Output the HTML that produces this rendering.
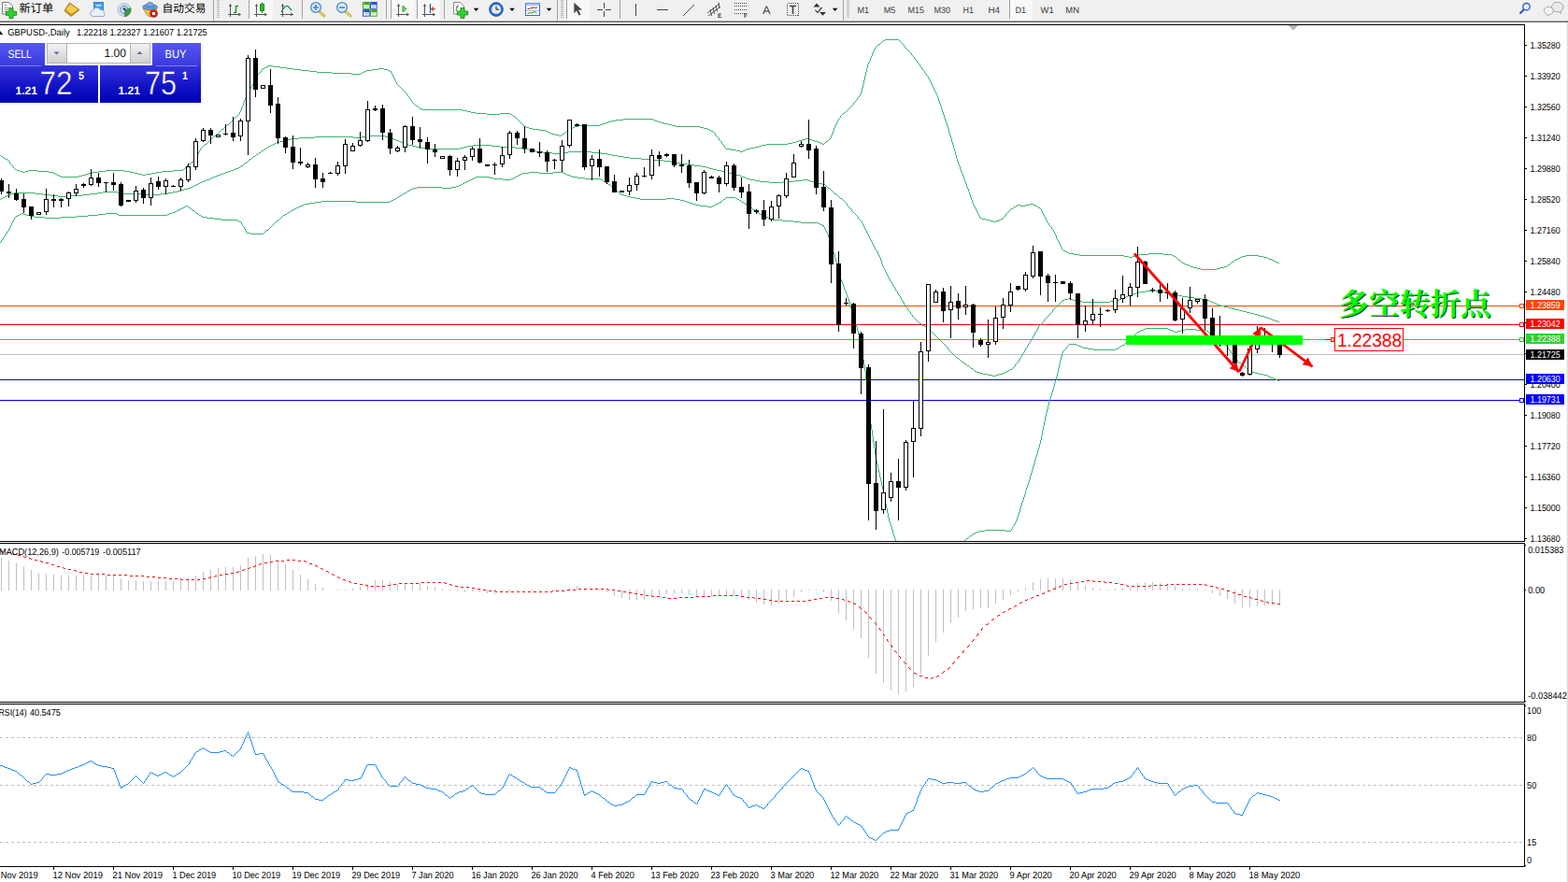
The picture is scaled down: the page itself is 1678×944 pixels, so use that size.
<!DOCTYPE html>
<html><head><meta charset="utf-8"><title>GBPUSD Daily</title>
<style>
html,body{margin:0;padding:0;background:#fff;overflow:hidden}
body{width:1678px;height:944px;position:relative;font-family:"Liberation Sans",sans-serif}
svg{position:absolute;left:0;top:0;display:block}
text{font-family:"Liberation Sans",sans-serif;text-rendering:geometricPrecision}
</style></head><body>
<svg width="1678" height="944" viewBox="0 0 1678 944">
<rect x="0" y="0" width="1678" height="944" fill="#fff"/>
<!--CHART-->
<g shape-rendering="crispEdges">
<rect x="0" y="26" width="1632" height="1" fill="#000" />
<rect x="1631" y="26" width="1" height="902" fill="#000" />
<rect x="0" y="579" width="1632" height="1" fill="#000" />
<rect x="0" y="581" width="1632" height="1" fill="#000" />
<rect x="0" y="751" width="1632" height="1" fill="#000" />
<rect x="0" y="753" width="1632" height="1" fill="#000" />
<rect x="0" y="927" width="1632" height="1" fill="#000" />
<rect x="1631" y="580" width="1" height="1" fill="#fff" />
<rect x="1631" y="752" width="1" height="1" fill="#fff" />
<rect x="1632" y="583" width="1" height="1" fill="#000" />
<rect x="1632" y="750" width="1" height="1" fill="#000" />
<rect x="1632" y="755" width="1" height="1" fill="#000" />
<rect x="1632" y="926" width="1" height="1" fill="#000" />
<rect x="1676" y="24" width="1" height="920" fill="#f2f2f2" />
<rect x="1677" y="24" width="1" height="920" fill="#dfdfdf" />
</g>
<clipPath id="cm"><rect x="0" y="27" width="1631" height="552"/></clipPath>
<g clip-path="url(#cm)">
<g shape-rendering="crispEdges">
<rect x="0" y="327" width="1631" height="1" fill="#FF4500" />
<rect x="0" y="347" width="1631" height="1" fill="#FF0000" />
<rect x="0" y="363" width="1631" height="1" fill="#32CD32" />
<rect x="0" y="379" width="1631" height="1" fill="#C0C0C0" />
<rect x="0" y="406" width="1631" height="1" fill="#0000FF" />
<rect x="0" y="428" width="1631" height="1" fill="#0000FF" />
<path transform="translate(.5,.5)" d="M0 166v0m1 1h1m1 1v0m1 1h1m1 1h1m1 1v0m1 1v0m1 1v1m1 1v0m1 1v0m1 1v0m1 1v1m1 1v0m1 1h1m1 1h2m1 1h2m1 1h2m1-1h2m1-1h9m1 1h11m1 1h4m1 1h1m1 1h1m1 1h1m1 1h1m1 1h18m1-1h3m1-1h3m1-1h2m1-1h3m1-1h5m1-1h7m1-1h19m1 1h5m1 1h4m1 1h3m1 1h3m1 1h3m1-1h5m1-1h4m1-1h5m1-1h11m1-1h10m1-1v0m1-1v0m1-1v0m1-1v0m1-1v0m1-1v0m1-1h1m1-1v0m1-1h1m1-1v0m1-1v-1m1-1v-1m1-1v-1m1-1v0m1-1v-1m1-1v-1m1-1v-1m1-1v0m1-1v0m1-1v0m1-1v0m1-1h1m1-1v0m1-1v0m1-1v0m1-1v0m1-1v0m1-1v0m1-1v0m1-1v0m1-1h1m1-1v0m1-1v0m1-1v0m1-1v0m1-1v0m1-1v0m1-1h1m1-1v0m1-1v0m1-1v0m1-1v0m1-1h1m1-1v0m1-1v0m1-1v0m1-1v0m1-1v0m1-1v0m1-1v0m1-1v0m1-1v0m1-1v0m1-1v0m1-1v-1m1-1v-1m1-1v-2m1-1v-1m1-1v-2m1-1v-2m1-1v-1m1-1v-1m1-1v-1m1-1v-1m1-1v-1m1-1v-1m1-1v-1m1-1v-1m1-1v0m1-1v-1m1-1v-1m1-1v-1m1-1v-1m1-1v-1m1-1v0m1-1v0m1-1v0m1-1v-1m1-1v0m1-1h1m1-1h1m1-1h1m1-1h4m1 1h7m1 1h6m1 1h6m1 1h7m1 1h8m1 1h7m1 1h15m1 1h20m1 1h9m1-1h1m1-1h1m1-1h1m1-1h5m1-1h6m1-1h5m1 1h3m1 1h1m1 1h1m0 1v0m1 1v1m1 1v1m1 1v1m1 1v1m1 1v1m1 1v1m1 1v0m1 1v0m1 1v0m1 1v0m1 1v0m1 1v0m1 1v0m1 1v0m1 1v0m1 1v0m1 1v1m1 1v0m1 1v0m1 1v1m1 1v0m1 1v1m1 1v0m1 1v0m1 1v0m1 1v0m1 1h1m1 1v0m1 1v0m1 1h2m1 1h42m1 1h4m1 1h3m1 1h4m1 1h11m1 1h13m1-1h10m1 1h1m1 1v0m1 1h1m1 1v0m1 1v0m1 1v0m1 1v0m1 1v0m1 1v0m1 1v0m1 1v0m1 1v0m1 1v0m1 1h1m1 1h2m1 1h3m1 1h6m1 1h6m1 1h1m1 1h1m1 1h1m1 1h3m1 1h3m1 1h2m1-1v0m1-1h1m1-1v0m1-1v0m1-1h1m1-1h1m1-1v0m1-1h1m1-1h1m1-1h3m1-1h22m1-1h2m1-1h2m1-1h2m1-1h2m1-1h4m1-1h7m1-1h31m1 1h1m1 1h2m1 1h2m1 1h3m1 1h3m1 1h3m1 1h3m1 1h25m1 1h3m1 1h3m1 1h1m1 1h1m1 1h1m1 1v0m1 1v0m1 1v1m1 1v0m1 1v0m1 1v0m1 1v1m1 1v0m1 1v0m1 1v1m1 1v0m1 1v0m1 1v1m1 1v0m1 1h4m1 1h5m1 1h3m1 1h2m1-1h1m1-1h1m1-1h3m1-1h4m1-1h3m1-1h2m1-1h4m1-1h22m1-1h4m1-1h3m1-1h2m1-1h2m1-1h3m1-1h3m1 1h2m1 1h2m1 1h3m1 1h1m1 1h1m1 1h1m1-1v0m1-1v0m1-1h1m1-1v0m1-1v0m1-1v-1m1-1v-1m1-1v-1m1-1v-2m1-1v-2m1-1v-1m1-1v-1m1-1v-1m1-1v-1m1-1v-1m1-1v0m1-1v-1m1-1v0m1-1v0m1-1h1m1-1v0m1-1v0m1-1v0m1-1v0m1-1v0m1-1v0m1-1v0m1-1v0m1-1v0m1-1v-1m1-1v0m1-1v0m1-1v0m1-1v-1m1-1v0m1-1v0m1-1v-1m1-1v-2m1-1v-3m1-1v-3m1-1v-3m1-1v-4m1-1v-3m1-1v-3m1-1v-3m1-1v-1m1-1v-1m1-1v-2m1-1v-1m1-1v-2m1-1v-1m1-1v-1m1-1v-1m1-1v0m1-1v0m1-1v0m1-1h1m1-1v0m1-1v0m1-1v0m1-1h1m1-1h14m1 1v0m1 1v0m1 1v0m1 1v0m1 1v0m1 1v1m1 1v0m1 1v0m1 1v0m1 1v0m1 1v0m1 1v0m1 1v0m1 1v1m1 1v0m1 1v0m1 1v1m1 1v0m1 1v0m1 1v1m1 1v0m1 1v0m1 1v1m1 1v0m1 1v1m1 1v0m1 1v0m1 1v1m1 1v0m1 1v1m1 1v0m1 1v1m1 1v1m1 1v1m1 1v1m1 1v1m1 1v1m1 1v1m1 1v1m1 1v1m1 1v1m1 1v2m1 1v2m1 1v2m1 1v2m1 1v2m1 1v2m1 1v2m1 1v2m1 1v2m1 1v2m1 1v2m1 1v2m1 1v3m1 1v2m1 1v2m1 1v3m1 1v2m1 1v3m1 1v2m1 1v3m1 1v3m1 1v2m1 1v2m1 1v1m1 1v2m1 1v2m1 1v1m1 1v2m1 1v2m1 1v1m1 1v2m1 1v2m1 1v1m1 1v2m1 1v2m1 1v2m1 1v2m1 1v2m1 1v1m1 1v1m1 1v1m1 1v1m1 1v1m1 1v1m1 1v1m1 1v1m1 1h1m1 1h3m1 1h3m1 1h3m1 1h2m1-1h2m1-1h1m1-1h1m1-1v0m1-1v0m1-1v0m1-1v-1m1-1v0m1-1v0m1-1v0m1-1v0m1-1v0m1-1h1m1-1v0m1-1h1m1-1h1m1-1h2m1 1h4m1-1h4m1-1h3m1 1h1m1 1h1m1 1v0m1 1h1m1 1v0m1 1v1m1 1v1m1 1v1m1 1v1m1 1v1m1 1v1m1 1v1m1 1v0m1 1v1m1 1v0m1 1v0m1 1v1m1 1v0m1 1v1m1 1v1m1 1v1m1 1v2m1 1v1m1 1v1m1 1v1m1 1v1m1 1v1m1 1v1m1 1v0m1 1h1m1 1h1m1 1h1m1 1h4m1 1h5m1 1h47m1 1h4m1 1h3m1-1h2m1-1h3m1-1h9m1-1h15m1 1h8m1 1h1m1 1h1m1 1v0m1 1v0m1 1v0m1 1h1m1 1v0m1 1v0m1 1h1m1 1h1m1 1h2m1 1h1m1 1h2m1 1h3m1 1h3m1 1h16m1-1h3m1-1h3m1-1h2m1-1v0m1-1h1m1-1v0m1-1v0m1-1h1m1-1v0m1-1h1m1-1h1m1-1h1m1-1h1m1-1h3m1-1h13m1 1h4m1 1h3m1 1h1m1 1h2m1 1h1m1 1h1m1 1h1m1 1h1" stroke="#3CB371" stroke-width="1" stroke-linecap="square" fill="none"/>
<path transform="translate(.5,.5)" d="M0 213v0m1-1h1m1-1h1m1-1h1m1-1h2m1-1h1m1-1h2m1-1h22m1 1h7m1 1h7m1 1h7m1 1h12m1-1h12m1-1h7m1-1h7m1-1h5m1-1h15m1 1h4m1 1h24m1 1h15m1-1h7m1-1h4m1-1h4m1-1h3m1-1h2m1-1h3m1-1h2m1-1h1m1-1h1m1-1h1m1-1h1m1-1h1m1-1h1m1-1h2m1-1h1m1-1h2m1-1h1m1-1h1m1-1h2m1-1h1m1-1h2m1-1h2m1-1h1m1-1h2m1-1h2m1-1h2m1-1h1m1-1h2m1-1h1m1-1v0m1-1h1m1-1v0m1-1v0m1-1h1m1-1v0m1-1v0m1-1v0m1-1h1m1-1v0m1-1v0m1-1h1m1-1v0m1-1h1m1-1v0m1-1h1m1-1v0m1-1h1m1-1v0m1-1h1m1-1v0m1-1h1m1-1h1m1-1h1m1-1h1m1-1h1m1-1h2m1-1h3m1-1h3m1-1h3m1-1h8m1-1h16m1-1h40m1 1h8m1-1h7m1-1h16m1 1h3m1 1h3m1 1h1m1 1h1m1 1h2m1 1h1m1 1h2m1 1h1m1 1h2m1 1h3m1 1h3m1 1h5m1 1h5m1 1h34m1-1h3m1-1h3m1-1h5m1-1h19m1 1h8m1 1h15m1 1h7m1 1h6m1 1h3m1 1h3m1 1h6m1 1h9m1 1h8m1-1h7m1-1h24m1 1h9m1 1h6m1 1h4m1 1h5m1 1h5m1 1h6m1 1h11m1 1h13m1 1h9m1 1h7m1 1h5m1 1h5m1 1h5m1 1h6m1 1h7m1 1h4m1 1h2m1 1h3m1 1h3m1 1h4m1 1h3m1 1h2m1 1h3m1 1h2m1 1h5m1 1h1m1 1h2m1 1h1m1 1h3m1 1h4m1 1h4m1 1h9m1 1h14m1-1h11m1-1h8m1-1h5m1 1h2m1 1h2m1 1h3m1 1h4m1 1h2m1 1v0m1 1v0m1 1v0m1 1h1m1 1v0m1 1v0m1 1v0m1 1v0m1 1v0m1 1h1m1 1v0m1 1v0m1 1v0m1 1v0m1 1h1m1 1v0m1 1v0m1 1v0m1 1v0m1 1v0m1 1v1m1 1v0m1 1v0m1 1v0m1 1v0m1 1v1m1 1v0m1 1v0m1 1v0m1 1v0m1 1v0m1 1v0m1 1v1m1 1v0m1 1v0m1 1v0m1 1v1m1 1v1m1 1v1m1 1v1m1 1v1m1 1v1m1 1v1m1 1v1m1 1v1m1 1v1m1 1v1m1 1v1m1 1v1m1 1v1m1 1v1m1 1v0m1 1v1m1 1v1m1 1v1m1 1v1m1 1v2m1 1v2m1 1v2m1 1v1m1 1v1m1 1v1m1 1v1m1 1v1m1 1v1m1 1v1m1 1v1m1 1v0m1 1v1m1 1v1m1 1v0m1 1v1m1 1v1m1 1v0m1 1v1m1 1v1m1 1v0m1 1v1m1 1v1m1 1v0m1 1v1m1 1v1m1 1v0m1 1v1m1 1v0m1 1v1m1 1v0m1 1v0m1 1v1m1 1v0m1 1v1m1 1v0m1 1v0m1 1v0m1 1v0m1 1v0m1 1v0m1 1v0m1 1h1m1 1v0m1 1h1m1 1h1m1 1v0m1 1v0m1 1v0m1 1h1m1 1v0m1 1v0m1 1v0m1 1v0m1 1v0m1 1v0m1 1v0m1 1v0m1 1v0m1 1v0m1 1v0m1 1v0m1 1v0m1 1v0m1 1v0m1 1v0m1 1v0m1 1v0m1 1v1m1 1v0m1 1v0m1 1v0m1 1v0m1 1v0m1 1v0m1 1v0m1 1v0m1 1v0m1 1h1m1 1v0m1 1v0m1 1v0m1 1h1m1 1v0m1 1h1m1 1v0m1 1h1m1 1v0m1 1v0m1 1h1m1 1v0m1 1v0m1 1h1m1 1h2m1 1h3m1 1h4m1 1h4m1 1h3m1-1h2m1-1h3m1-1h1m1-1h1m1-1h1m1-1h1m1-1h1m1-1v0m1-1v0m1-1v0m1-1v-1m1-1v0m1-1v0m1-1v0m1-1v-1m1-1v-1m1-1v0m1-1v-1m1-1v-1m1-1v0m1-1v-1m1-1v-1m1-1v0m1-1v-1m1-1v-1m1-1v0m1-1v-1m1-1v-1m1-1v0m1-1v-1m1-1v-1m1-1v-1m1-1v0m1-1v-1m1-1v-1m1-1v-1m1-1v0m1-1v0m1-1v0m1-1v0m1-1v0m1-1v-1m1-1v0m1-1v0m1-1v0m1-1v0m1-1v0m1-1v0m1-1v0m1-1v0m1-1v-1m1-1v0m1-1v0m1-1v0m1-1v0m1-1v0m1-1v0m1-1v0m1-1v0m1-1v0m1-1v0m1-1h1m1-1h3m1-1h1m1 1h2m1 1h4m1 1h4m1 1h29m1-1h5m1-1h3m1-1h1m1-1h1m1-1h2m1-1h1m1-1h2m1-1h2m1-1h2m1-1h2m1-1h6m1-1h13m1 1h8m1 1h3m1 1h3m1 1h3m1 1h3m1 1h5m1 1h6m1 1h7m1 1h5m1 1h1m1 1h1m1 1h2m1 1h1m1 1h1m1 1h2m1 1h3m1 1h3m1 1h3m1 1h3m1 1h3m1 1h3m1 1h3m1 1h3m1 1h3m1 1h3m1 1h2m1 1h3m1 1h2m1 1h2m1 1h1m1 1h2m1 1h2m1 1h1" stroke="#3CB371" stroke-width="1" stroke-linecap="square" fill="none"/>
<path transform="translate(.5,.5)" d="M0 259v0m1-1v-1m1-1v0m1-1v-1m1-1v0m1-1v-1m1-1v0m1-1v-1m1-1v0m1-1v-1m1-1v-1m1-1v-1m1-1v-1m1-1v-1m1-1v-1m1-1v-1m1-1v0m1-1h1m1-1h1m1-1h1m1-1h1m1 1h2m1 1h3m1 1h4m1 1h10m1 1h16m1-1h16m1-1h11m1-1h10m1-1h7m1-1h11m1 1h1m1 1h51m1-1h1m1-1h2m1-1h2m1-1h1m1-1h1m1-1h1m1-1h1m1-1h1m1-1h1m1-1h1m1 1v0m1 1h1m1 1v0m1 1v0m1 1h1m1 1v0m1 1v0m1 1h1m1 1v0m1 1h1m1 1h1m1 1h3m1 1h7m1 1h7m1 1h16m1 1h1m1 1h1m1 1v1m1 1v1m1 1v0m1 1v1m1 1v1m1 1v1m1 1h3m1 1h13m1-1v0m1-1v0m1-1v0m1-1h1m1-1v0m1-1v0m1-1v0m1-1v0m1-1v0m1-1v0m1-1v0m1-1v0m1-1v0m1-1h1m1-1v0m1-1v0m1-1v0m1-1v0m1-1v0m1-1h1m1-1h1m1-1v0m1-1h1m1-1v0m1-1h1m1-1h1m1-1h1m1-1h1m1-1h1m1-1h2m1-1h1m1-1h4m1-1h5m1-1h6m1-1h36m1 1h35m1-1h1m1-1h1m1-1h1m1-1h1m1-1v0m1-1h1m1-1h1m1-1v0m1-1h1m1-1h1m1-1v0m1-1h1m1-1h1m1-1h1m1-1h3m1-1h26m1 1h9m1-1h4m1-1h2m1-1h1m1-1h1m1-1h1m1-1h1m1-1h1m1-1h1m1-1h1m1-1h1m1-1h1m1-1h14m1 1h3m1 1h9m1 1h8m1-1h1m1-1h1m1-1h1m1-1h1m1-1h1m1-1h1m1-1h6m1-1h10m1 1h14m1-1h10m1 1h1m1 1h1m1 1h2m1 1h1m1 1h5m1 1h7m1 1h16m1 1h1m1 1v0m1 1h1m1 1h1m1 1v0m1 1h1m1 1v0m1 1v0m1 1v0m1 1v0m1 1v0m1 1h1m1 1v0m1 1v0m1 1v0m1 1h1m1 1h2m1 1h2m1 1h3m1 1h4m1 1h4m1 1h27m1-1h8m1 1h5m1 1h3m1 1h2m1 1h2m1 1h2m1 1h2m1 1h4m1 1h7m1 1h4m1-1h1m1-1h1m1-1h1m1-1h1m1-1h1m1-1v0m1-1v0m1-1h1m1-1v0m1-1h9m1 1h1m1 1h1m1 1h1m1 1v0m1 1h1m1 1v0m1 1h1m1 1v0m1 1h1m1 1v0m1 1h1m1 1v0m1 1h1m1 1v0m1 1v0m1 1h1m1 1v0m1 1h1m1 1h1m1 1h1m1 1h2m1 1h2m1 1h1m1 1h9m1 1h11m1 1h7m1 1h18m1 1h1m1 1h1m1 1h1m0 1v0m1 1v1m1 1v1m1 1v1m1 1v1m1 1v2m1 1v3m1 1v3m1 1v3m1 1v1m1 1v1m1 1v1m1 1v3m1 1v3m1 1v3m1 1v2m1 1v3m1 1v3m1 1v3m1 1v2m1 1v1m1 1v2m1 1v2m1 1v1m1 1v2m1 1v2m1 1v1m1 1v2m1 1v3m1 1v2m1 1v2m1 1v3m1 1v2m1 1v3m1 1v2m1 1v2m1 1v3m1 1v3m1 1v4m1 1v5m1 1v4m1 1v4m1 1v5m1 1v4m1 1v6m1 1v9m1 1v9m1 1v8m1 1v9m1 1v9m1 1v7m1 1v5m1 1v6m1 1v6m1 1v5m1 1v6m1 1v5m1 1v3m1 1v4m1 1v3m1 1v4m1 1v3m1 1v4m1 1v3m1 1v4m1 1v4m1 1v4m1 1v4m1 1v4m1 1v4m1 1v3m1 1v2m1 1v2m1 1v2m1 1v3m1 1v2m1 1v2m1 1v1" stroke="#3CB371" stroke-width="1" stroke-linecap="square" fill="none"/>
<path transform="translate(.5,.5)" d="M1032 578v0m1-1v0m1-1h1m1-1v0m1-1v0m1-1h1m1-1v0m1-1h1m1-1h1m1-1h2m1-1h5m1-1h21m1 1h5m1-1v-1m1-1v-1m1-1v0m1-1v-1m1-1v-1m1-1v-1m1-1v-2m1-1v-2m1-1v-2m1-1v-3m1-1v-2m1-1v-2m1-1v-2m1-1v-2m1-1v-2m1-1v-3m1-1v-2m1-1v-2m1-1v-2m1-1v-2m1-1v-3m1-1v-2m1-1v-2m1-1v-3m1-1v-2m1-1v-3m1-1v-2m1-1v-2m1-1v-3m1-1v-2m1-1v-3m1-1v-3m1-1v-4m1-1v-4m1-1v-4m1-1v-4m1-1v-4m1-1v-3m1-1v-3m1-1v-3m1-1v-3m1-1v-2m1-1v-2m1-1v-3m1-1v-2m1-1v-2m1-1v-3m1-1v-2m1-1v-3m1-1v-3m1-1v-4m1-1v-3m1-1v-3m1-1v-3m1-1v-3m1-1v-1m1-1v0m1-1v0m1-1v0m1-1v-1m1-1v0m1-1v0m1-1h7m1 1h1m1 1h2m1 1h1m1 1h4m1 1h5m1 1h23m1-1h1m1-1h1m1-1v0m1-1h1m1-1h1m1-1v0m1-1v0m1-1v0m1-1v0m1-1v0m1-1v0m1-1v0m1-1h1m1-1v0m1-1v0m1-1v0m1-1v0m1-1v0m1-1h1m1-1h1m1-1h2m1-1h1m1-1h23m1 1h1m1 1h2m1 1h1m1 1h2m1-1h3m1-1h3m1-1h11m1 1h10m1 1h1m1 1v0m1 1v0m1 1h1m1 1v0m1 1v0m1 1h1m1 1v0m1 1v0m1 1v0m1 1h1m1 1v0m1 1v0m1 1v0m1 1h1m1 1v0m1 1v0m1 1v0m1 1v1m1 1v0m1 1v0m1 1v1m1 1v0m1 1v0m1 1v1m1 1v0m1 1v0m1 1v1m1 1v0m1 1v0m1 1h1m1 1v0m1 1v0m1 1h1m1 1v0m1 1v0m1 1h1m1 1v0m1 1v0m1 1h1m1 1h2m1 1h3m1 1h4m1 1h3m1 1h1m1 1h1m1 1h2m1 1h1m1 1h1m1 1h1" stroke="#3CB371" stroke-width="1" stroke-linecap="square" fill="none"/>
<rect x="1" y="191" width="1" height="17" fill="#000" />
<rect x="-1" y="193" width="5" height="12" fill="#000" />
<rect x="9" y="197" width="1" height="15" fill="#000" />
<rect x="7" y="205" width="5" height="2" fill="#000" />
<rect x="17" y="202" width="1" height="13" fill="#000" />
<rect x="15" y="207" width="5" height="7" fill="#000" />
<rect x="25" y="207" width="1" height="21" fill="#000" />
<rect x="23" y="213" width="5" height="9" fill="#000" />
<rect x="33" y="221" width="1" height="14" fill="#000" />
<rect x="31" y="221" width="5" height="10" fill="#000" />
<rect x="41" y="227" width="1" height="3" fill="#000" />
<rect x="39.5" y="227.5" width="4" height="2" fill="#fff" stroke="#000" stroke-width="1"/>
<rect x="49" y="202" width="1" height="28" fill="#000" />
<rect x="47.5" y="213.5" width="4" height="13" fill="#fff" stroke="#000" stroke-width="1"/>
<rect x="57" y="208" width="1" height="14" fill="#000" />
<rect x="55" y="213" width="5" height="2" fill="#000" />
<rect x="65" y="212" width="1" height="10" fill="#000" />
<rect x="63" y="213" width="5" height="2" fill="#000" />
<rect x="73" y="205" width="1" height="16" fill="#000" />
<rect x="71.5" y="206.5" width="4" height="6" fill="#fff" stroke="#000" stroke-width="1"/>
<rect x="81" y="197" width="1" height="13" fill="#000" />
<rect x="79.5" y="202.5" width="4" height="4" fill="#fff" stroke="#000" stroke-width="1"/>
<rect x="89" y="196" width="1" height="5" fill="#000" />
<rect x="87" y="197" width="5" height="2" fill="#000" />
<rect x="97" y="181" width="1" height="18" fill="#000" />
<rect x="95.5" y="190.5" width="4" height="7" fill="#fff" stroke="#000" stroke-width="1"/>
<rect x="105" y="185" width="1" height="15" fill="#000" />
<rect x="103" y="190" width="5" height="6" fill="#000" />
<rect x="113" y="195" width="1" height="11" fill="#000" />
<rect x="111" y="195" width="5" height="1" fill="#000" />
<rect x="121" y="185" width="1" height="19" fill="#000" />
<rect x="119" y="195" width="5" height="3" fill="#000" />
<rect x="129" y="195" width="1" height="26" fill="#000" />
<rect x="127" y="197" width="5" height="23" fill="#000" />
<rect x="137" y="214" width="1" height="2" fill="#000" />
<rect x="135" y="214" width="5" height="2" fill="#000" />
<rect x="145" y="199" width="1" height="18" fill="#000" />
<rect x="143.5" y="204.5" width="4" height="10" fill="#fff" stroke="#000" stroke-width="1"/>
<rect x="153" y="201" width="1" height="17" fill="#000" />
<rect x="151" y="203" width="5" height="9" fill="#000" />
<rect x="161" y="190" width="1" height="30" fill="#000" />
<rect x="159.5" y="196.5" width="4" height="15" fill="#fff" stroke="#000" stroke-width="1"/>
<rect x="169" y="189" width="1" height="14" fill="#000" />
<rect x="167" y="194" width="5" height="6" fill="#000" />
<rect x="177" y="191" width="1" height="17" fill="#000" />
<rect x="175.5" y="193.5" width="4" height="6" fill="#fff" stroke="#000" stroke-width="1"/>
<rect x="185" y="198" width="1" height="2" fill="#000" />
<rect x="183" y="199" width="5" height="1" fill="#000" />
<rect x="193" y="190" width="1" height="14" fill="#000" />
<rect x="191.5" y="192.5" width="4" height="7" fill="#fff" stroke="#000" stroke-width="1"/>
<rect x="201" y="175" width="1" height="20" fill="#000" />
<rect x="199.5" y="178.5" width="4" height="14" fill="#fff" stroke="#000" stroke-width="1"/>
<rect x="209" y="148" width="1" height="34" fill="#000" />
<rect x="207.5" y="151.5" width="4" height="27" fill="#fff" stroke="#000" stroke-width="1"/>
<rect x="217" y="137" width="1" height="15" fill="#000" />
<rect x="215.5" y="139.5" width="4" height="11" fill="#fff" stroke="#000" stroke-width="1"/>
<rect x="225" y="137" width="1" height="17" fill="#000" />
<rect x="223" y="139" width="5" height="6" fill="#000" />
<rect x="233" y="144" width="1" height="2" fill="#000" />
<rect x="231.5" y="144.5" width="4" height="2" fill="#fff" stroke="#000" stroke-width="1"/>
<rect x="241" y="133" width="1" height="12" fill="#000" />
<rect x="239" y="143" width="5" height="1" fill="#000" />
<rect x="249" y="125" width="1" height="26" fill="#000" />
<rect x="247" y="142" width="5" height="5" fill="#000" />
<rect x="257" y="127" width="1" height="24" fill="#000" />
<rect x="255.5" y="129.5" width="4" height="16" fill="#fff" stroke="#000" stroke-width="1"/>
<rect x="265" y="59" width="1" height="107" fill="#000" />
<rect x="263.5" y="62.5" width="4" height="67" fill="#fff" stroke="#000" stroke-width="1"/>
<rect x="273" y="53" width="1" height="51" fill="#000" />
<rect x="271" y="62" width="5" height="34" fill="#000" />
<rect x="281" y="91" width="1" height="4" fill="#000" />
<rect x="279.5" y="91.5" width="4" height="3" fill="#fff" stroke="#000" stroke-width="1"/>
<rect x="289" y="74" width="1" height="47" fill="#000" />
<rect x="287" y="91" width="5" height="22" fill="#000" />
<rect x="297" y="104" width="1" height="50" fill="#000" />
<rect x="295" y="111" width="5" height="37" fill="#000" />
<rect x="305" y="146" width="1" height="18" fill="#000" />
<rect x="303" y="147" width="5" height="11" fill="#000" />
<rect x="313" y="145" width="1" height="36" fill="#000" />
<rect x="311" y="157" width="5" height="17" fill="#000" />
<rect x="321" y="158" width="1" height="19" fill="#000" />
<rect x="319" y="173" width="5" height="2" fill="#000" />
<rect x="329" y="174" width="1" height="6" fill="#000" />
<rect x="327.5" y="176.5" width="4" height="2" fill="#fff" stroke="#000" stroke-width="1"/>
<rect x="337" y="169" width="1" height="32" fill="#000" />
<rect x="335" y="176" width="5" height="16" fill="#000" />
<rect x="345" y="185" width="1" height="16" fill="#000" />
<rect x="343" y="191" width="5" height="4" fill="#000" />
<rect x="353" y="184" width="1" height="2" fill="#000" />
<rect x="351" y="185" width="5" height="1" fill="#000" />
<rect x="361" y="173" width="1" height="15" fill="#000" />
<rect x="359.5" y="177.5" width="4" height="8" fill="#fff" stroke="#000" stroke-width="1"/>
<rect x="369" y="149" width="1" height="37" fill="#000" />
<rect x="367.5" y="154.5" width="4" height="23" fill="#fff" stroke="#000" stroke-width="1"/>
<rect x="377" y="153" width="1" height="9" fill="#000" />
<rect x="375.5" y="156.5" width="4" height="5" fill="#fff" stroke="#000" stroke-width="1"/>
<rect x="385" y="141" width="1" height="16" fill="#000" />
<rect x="383.5" y="150.5" width="4" height="5" fill="#fff" stroke="#000" stroke-width="1"/>
<rect x="393" y="108" width="1" height="44" fill="#000" />
<rect x="391.5" y="117.5" width="4" height="33" fill="#fff" stroke="#000" stroke-width="1"/>
<rect x="401" y="113" width="1" height="6" fill="#000" />
<rect x="399" y="116" width="5" height="2" fill="#000" />
<rect x="409" y="112" width="1" height="38" fill="#000" />
<rect x="407" y="116" width="5" height="26" fill="#000" />
<rect x="417" y="138" width="1" height="27" fill="#000" />
<rect x="415" y="142" width="5" height="17" fill="#000" />
<rect x="425" y="156" width="1" height="7" fill="#000" />
<rect x="423.5" y="158.5" width="4" height="3" fill="#fff" stroke="#000" stroke-width="1"/>
<rect x="433" y="134" width="1" height="29" fill="#000" />
<rect x="431.5" y="135.5" width="4" height="22" fill="#fff" stroke="#000" stroke-width="1"/>
<rect x="441" y="125" width="1" height="30" fill="#000" />
<rect x="439" y="135" width="5" height="15" fill="#000" />
<rect x="449" y="136" width="1" height="23" fill="#000" />
<rect x="447" y="149" width="5" height="3" fill="#000" />
<rect x="457" y="147" width="1" height="28" fill="#000" />
<rect x="455" y="152" width="5" height="8" fill="#000" />
<rect x="465" y="154" width="1" height="14" fill="#000" />
<rect x="463" y="160" width="5" height="3" fill="#000" />
<rect x="473" y="167" width="1" height="3" fill="#000" />
<rect x="471.5" y="167.5" width="4" height="2" fill="#fff" stroke="#000" stroke-width="1"/>
<rect x="481" y="166" width="1" height="22" fill="#000" />
<rect x="479" y="167" width="5" height="15" fill="#000" />
<rect x="489" y="169" width="1" height="20" fill="#000" />
<rect x="487.5" y="172.5" width="4" height="9" fill="#fff" stroke="#000" stroke-width="1"/>
<rect x="497" y="166" width="1" height="16" fill="#000" />
<rect x="495.5" y="168.5" width="4" height="3" fill="#fff" stroke="#000" stroke-width="1"/>
<rect x="505" y="157" width="1" height="15" fill="#000" />
<rect x="503.5" y="159.5" width="4" height="8" fill="#fff" stroke="#000" stroke-width="1"/>
<rect x="513" y="148" width="1" height="27" fill="#000" />
<rect x="511" y="159" width="5" height="15" fill="#000" />
<rect x="521" y="176" width="1" height="2" fill="#000" />
<rect x="519" y="176" width="5" height="2" fill="#000" />
<rect x="529" y="174" width="1" height="13" fill="#000" />
<rect x="527" y="176" width="5" height="1" fill="#000" />
<rect x="537" y="157" width="1" height="22" fill="#000" />
<rect x="535.5" y="166.5" width="4" height="9" fill="#fff" stroke="#000" stroke-width="1"/>
<rect x="545" y="140" width="1" height="30" fill="#000" />
<rect x="543.5" y="142.5" width="4" height="23" fill="#fff" stroke="#000" stroke-width="1"/>
<rect x="553" y="140" width="1" height="15" fill="#000" />
<rect x="551" y="142" width="5" height="6" fill="#000" />
<rect x="561" y="135" width="1" height="29" fill="#000" />
<rect x="559" y="148" width="5" height="11" fill="#000" />
<rect x="569" y="159" width="1" height="4" fill="#000" />
<rect x="567" y="159" width="5" height="4" fill="#000" />
<rect x="577" y="152" width="1" height="16" fill="#000" />
<rect x="575" y="162" width="5" height="2" fill="#000" />
<rect x="585" y="161" width="1" height="23" fill="#000" />
<rect x="583" y="163" width="5" height="10" fill="#000" />
<rect x="593" y="170" width="1" height="11" fill="#000" />
<rect x="591" y="171" width="5" height="1" fill="#000" />
<rect x="601" y="150" width="1" height="34" fill="#000" />
<rect x="599.5" y="156.5" width="4" height="15" fill="#fff" stroke="#000" stroke-width="1"/>
<rect x="609" y="128" width="1" height="30" fill="#000" />
<rect x="607.5" y="128.5" width="4" height="27" fill="#fff" stroke="#000" stroke-width="1"/>
<rect x="617" y="132" width="1" height="3" fill="#000" />
<rect x="615" y="133" width="5" height="2" fill="#000" />
<rect x="625" y="133" width="1" height="49" fill="#000" />
<rect x="623" y="133" width="5" height="46" fill="#000" />
<rect x="633" y="166" width="1" height="27" fill="#000" />
<rect x="631.5" y="170.5" width="4" height="7" fill="#fff" stroke="#000" stroke-width="1"/>
<rect x="641" y="160" width="1" height="29" fill="#000" />
<rect x="639" y="170" width="5" height="9" fill="#000" />
<rect x="649" y="178" width="1" height="19" fill="#000" />
<rect x="647" y="178" width="5" height="17" fill="#000" />
<rect x="657" y="187" width="1" height="19" fill="#000" />
<rect x="655" y="194" width="5" height="12" fill="#000" />
<rect x="665" y="204" width="1" height="2" fill="#000" />
<rect x="663" y="204" width="5" height="2" fill="#000" />
<rect x="673" y="190" width="1" height="19" fill="#000" />
<rect x="671.5" y="198.5" width="4" height="6" fill="#fff" stroke="#000" stroke-width="1"/>
<rect x="681" y="185" width="1" height="19" fill="#000" />
<rect x="679.5" y="188.5" width="4" height="9" fill="#fff" stroke="#000" stroke-width="1"/>
<rect x="689" y="179" width="1" height="11" fill="#000" />
<rect x="687" y="188" width="5" height="1" fill="#000" />
<rect x="697" y="160" width="1" height="32" fill="#000" />
<rect x="695.5" y="166.5" width="4" height="21" fill="#fff" stroke="#000" stroke-width="1"/>
<rect x="705" y="162" width="1" height="16" fill="#000" />
<rect x="703" y="166" width="5" height="4" fill="#000" />
<rect x="713" y="164" width="1" height="4" fill="#000" />
<rect x="711" y="165" width="5" height="2" fill="#000" />
<rect x="721" y="165" width="1" height="14" fill="#000" />
<rect x="719" y="165" width="5" height="12" fill="#000" />
<rect x="729" y="165" width="1" height="20" fill="#000" />
<rect x="727" y="176" width="5" height="2" fill="#000" />
<rect x="737" y="171" width="1" height="30" fill="#000" />
<rect x="735" y="177" width="5" height="19" fill="#000" />
<rect x="745" y="195" width="1" height="20" fill="#000" />
<rect x="743" y="195" width="5" height="12" fill="#000" />
<rect x="753" y="182" width="1" height="26" fill="#000" />
<rect x="751.5" y="184.5" width="4" height="22" fill="#fff" stroke="#000" stroke-width="1"/>
<rect x="761" y="188" width="1" height="3" fill="#000" />
<rect x="759" y="189" width="5" height="2" fill="#000" />
<rect x="769" y="188" width="1" height="18" fill="#000" />
<rect x="767" y="190" width="5" height="7" fill="#000" />
<rect x="777" y="173" width="1" height="26" fill="#000" />
<rect x="775.5" y="177.5" width="4" height="19" fill="#fff" stroke="#000" stroke-width="1"/>
<rect x="785" y="175" width="1" height="29" fill="#000" />
<rect x="783" y="177" width="5" height="24" fill="#000" />
<rect x="793" y="190" width="1" height="22" fill="#000" />
<rect x="791" y="200" width="5" height="6" fill="#000" />
<rect x="801" y="197" width="1" height="48" fill="#000" />
<rect x="799" y="205" width="5" height="24" fill="#000" />
<rect x="809" y="224" width="1" height="5" fill="#000" />
<rect x="807" y="225" width="5" height="2" fill="#000" />
<rect x="817" y="214" width="1" height="28" fill="#000" />
<rect x="815" y="225" width="5" height="10" fill="#000" />
<rect x="825" y="215" width="1" height="22" fill="#000" />
<rect x="823.5" y="221.5" width="4" height="13" fill="#fff" stroke="#000" stroke-width="1"/>
<rect x="833" y="208" width="1" height="26" fill="#000" />
<rect x="831.5" y="209.5" width="4" height="11" fill="#fff" stroke="#000" stroke-width="1"/>
<rect x="841" y="185" width="1" height="27" fill="#000" />
<rect x="839.5" y="191.5" width="4" height="18" fill="#fff" stroke="#000" stroke-width="1"/>
<rect x="849" y="165" width="1" height="25" fill="#000" />
<rect x="847.5" y="174.5" width="4" height="15" fill="#fff" stroke="#000" stroke-width="1"/>
<rect x="857" y="151" width="1" height="7" fill="#000" />
<rect x="855.5" y="154.5" width="4" height="2" fill="#fff" stroke="#000" stroke-width="1"/>
<rect x="865" y="128" width="1" height="42" fill="#000" />
<rect x="863" y="154" width="5" height="7" fill="#000" />
<rect x="873" y="156" width="1" height="52" fill="#000" />
<rect x="871" y="159" width="5" height="42" fill="#000" />
<rect x="881" y="183" width="1" height="43" fill="#000" />
<rect x="879" y="200" width="5" height="22" fill="#000" />
<rect x="889" y="214" width="1" height="89" fill="#000" />
<rect x="887" y="222" width="5" height="61" fill="#000" />
<rect x="897" y="269" width="1" height="86" fill="#000" />
<rect x="895" y="282" width="5" height="66" fill="#000" />
<rect x="905" y="319" width="1" height="8" fill="#000" />
<rect x="903" y="324" width="5" height="1" fill="#000" />
<rect x="913" y="324" width="1" height="49" fill="#000" />
<rect x="911" y="325" width="5" height="32" fill="#000" />
<rect x="921" y="355" width="1" height="67" fill="#000" />
<rect x="919" y="357" width="5" height="37" fill="#000" />
<rect x="929" y="390" width="1" height="167" fill="#000" />
<rect x="927" y="393" width="5" height="125" fill="#000" />
<rect x="937" y="472" width="1" height="95" fill="#000" />
<rect x="935" y="517" width="5" height="30" fill="#000" />
<rect x="945" y="438" width="1" height="112" fill="#000" />
<rect x="943.5" y="527.5" width="4" height="18" fill="#fff" stroke="#000" stroke-width="1"/>
<rect x="953" y="506" width="1" height="31" fill="#000" />
<rect x="951.5" y="515.5" width="4" height="17" fill="#fff" stroke="#000" stroke-width="1"/>
<rect x="961" y="491" width="1" height="66" fill="#000" />
<rect x="959" y="515" width="5" height="7" fill="#000" />
<rect x="969" y="471" width="1" height="54" fill="#000" />
<rect x="967.5" y="473.5" width="4" height="48" fill="#fff" stroke="#000" stroke-width="1"/>
<rect x="977" y="428" width="1" height="83" fill="#000" />
<rect x="975.5" y="458.5" width="4" height="14" fill="#fff" stroke="#000" stroke-width="1"/>
<rect x="985" y="366" width="1" height="101" fill="#000" />
<rect x="983.5" y="376.5" width="4" height="82" fill="#fff" stroke="#000" stroke-width="1"/>
<rect x="993" y="304" width="1" height="83" fill="#000" />
<rect x="991.5" y="304.5" width="4" height="71" fill="#fff" stroke="#000" stroke-width="1"/>
<rect x="1001" y="310" width="1" height="14" fill="#000" />
<rect x="999.5" y="312.5" width="4" height="11" fill="#fff" stroke="#000" stroke-width="1"/>
<rect x="1009" y="308" width="1" height="37" fill="#000" />
<rect x="1007" y="312" width="5" height="21" fill="#000" />
<rect x="1017" y="306" width="1" height="56" fill="#000" />
<rect x="1015.5" y="323.5" width="4" height="8" fill="#fff" stroke="#000" stroke-width="1"/>
<rect x="1025" y="314" width="1" height="28" fill="#000" />
<rect x="1023" y="322" width="5" height="8" fill="#000" />
<rect x="1033" y="306" width="1" height="31" fill="#000" />
<rect x="1031.5" y="326.5" width="4" height="2" fill="#fff" stroke="#000" stroke-width="1"/>
<rect x="1041" y="325" width="1" height="47" fill="#000" />
<rect x="1039" y="326" width="5" height="30" fill="#000" />
<rect x="1049" y="362" width="1" height="9" fill="#000" />
<rect x="1047" y="364" width="5" height="5" fill="#000" />
<rect x="1057" y="342" width="1" height="41" fill="#000" />
<rect x="1055.5" y="366.5" width="4" height="2" fill="#fff" stroke="#000" stroke-width="1"/>
<rect x="1065" y="328" width="1" height="41" fill="#000" />
<rect x="1063.5" y="340.5" width="4" height="25" fill="#fff" stroke="#000" stroke-width="1"/>
<rect x="1073" y="319" width="1" height="33" fill="#000" />
<rect x="1071.5" y="326.5" width="4" height="13" fill="#fff" stroke="#000" stroke-width="1"/>
<rect x="1081" y="303" width="1" height="31" fill="#000" />
<rect x="1079.5" y="312.5" width="4" height="14" fill="#fff" stroke="#000" stroke-width="1"/>
<rect x="1089" y="306" width="1" height="5" fill="#000" />
<rect x="1087" y="306" width="5" height="4" fill="#000" />
<rect x="1097" y="291" width="1" height="21" fill="#000" />
<rect x="1095.5" y="294.5" width="4" height="15" fill="#fff" stroke="#000" stroke-width="1"/>
<rect x="1105" y="263" width="1" height="35" fill="#000" />
<rect x="1103.5" y="270.5" width="4" height="25" fill="#fff" stroke="#000" stroke-width="1"/>
<rect x="1113" y="269" width="1" height="47" fill="#000" />
<rect x="1111" y="269" width="5" height="27" fill="#000" />
<rect x="1121" y="293" width="1" height="30" fill="#000" />
<rect x="1119" y="295" width="5" height="8" fill="#000" />
<rect x="1129" y="294" width="1" height="29" fill="#000" />
<rect x="1127" y="302" width="5" height="1" fill="#000" />
<rect x="1137" y="301" width="1" height="3" fill="#000" />
<rect x="1135" y="301" width="5" height="3" fill="#000" />
<rect x="1145" y="301" width="1" height="20" fill="#000" />
<rect x="1143" y="303" width="5" height="11" fill="#000" />
<rect x="1153" y="314" width="1" height="48" fill="#000" />
<rect x="1151" y="314" width="5" height="34" fill="#000" />
<rect x="1161" y="327" width="1" height="28" fill="#000" />
<rect x="1159.5" y="343.5" width="4" height="4" fill="#fff" stroke="#000" stroke-width="1"/>
<rect x="1169" y="320" width="1" height="27" fill="#000" />
<rect x="1167.5" y="336.5" width="4" height="6" fill="#fff" stroke="#000" stroke-width="1"/>
<rect x="1177" y="329" width="1" height="21" fill="#000" />
<rect x="1175" y="336" width="5" height="1" fill="#000" />
<rect x="1185" y="331" width="1" height="3" fill="#000" />
<rect x="1183" y="332" width="5" height="1" fill="#000" />
<rect x="1193" y="310" width="1" height="25" fill="#000" />
<rect x="1191.5" y="319.5" width="4" height="12" fill="#fff" stroke="#000" stroke-width="1"/>
<rect x="1201" y="295" width="1" height="29" fill="#000" />
<rect x="1199.5" y="315.5" width="4" height="4" fill="#fff" stroke="#000" stroke-width="1"/>
<rect x="1209" y="303" width="1" height="24" fill="#000" />
<rect x="1207.5" y="307.5" width="4" height="9" fill="#fff" stroke="#000" stroke-width="1"/>
<rect x="1217" y="264" width="1" height="54" fill="#000" />
<rect x="1215.5" y="280.5" width="4" height="27" fill="#fff" stroke="#000" stroke-width="1"/>
<rect x="1225" y="279" width="1" height="25" fill="#000" />
<rect x="1223" y="280" width="5" height="24" fill="#000" />
<rect x="1233" y="308" width="1" height="5" fill="#000" />
<rect x="1231" y="310" width="5" height="1" fill="#000" />
<rect x="1241" y="305" width="1" height="18" fill="#000" />
<rect x="1239" y="310" width="5" height="4" fill="#000" />
<rect x="1249" y="303" width="1" height="17" fill="#000" />
<rect x="1247" y="313" width="5" height="1" fill="#000" />
<rect x="1257" y="311" width="1" height="33" fill="#000" />
<rect x="1255" y="313" width="5" height="30" fill="#000" />
<rect x="1265" y="319" width="1" height="38" fill="#000" />
<rect x="1263.5" y="330.5" width="4" height="11" fill="#fff" stroke="#000" stroke-width="1"/>
<rect x="1273" y="307" width="1" height="28" fill="#000" />
<rect x="1271.5" y="321.5" width="4" height="8" fill="#fff" stroke="#000" stroke-width="1"/>
<rect x="1281" y="320" width="1" height="5" fill="#000" />
<rect x="1279.5" y="320.5" width="4" height="2" fill="#fff" stroke="#000" stroke-width="1"/>
<rect x="1289" y="315" width="1" height="38" fill="#000" />
<rect x="1287" y="320" width="5" height="21" fill="#000" />
<rect x="1297" y="330" width="1" height="34" fill="#000" />
<rect x="1295" y="340" width="5" height="24" fill="#000" />
<rect x="1305" y="338" width="1" height="33" fill="#000" />
<rect x="1303" y="360" width="5" height="6" fill="#000" />
<rect x="1313" y="362" width="1" height="19" fill="#000" />
<rect x="1311" y="362" width="5" height="5" fill="#000" />
<rect x="1321" y="365" width="1" height="29" fill="#000" />
<rect x="1319" y="365" width="5" height="24" fill="#000" />
<rect x="1329" y="398" width="1" height="5" fill="#000" />
<rect x="1327" y="399" width="5" height="3" fill="#000" />
<rect x="1337" y="370" width="1" height="32" fill="#000" />
<rect x="1335.5" y="373.5" width="4" height="27" fill="#fff" stroke="#000" stroke-width="1"/>
<rect x="1345" y="349" width="1" height="29" fill="#000" />
<rect x="1343.5" y="364.5" width="4" height="9" fill="#fff" stroke="#000" stroke-width="1"/>
<rect x="1353" y="351" width="1" height="15" fill="#000" />
<rect x="1351.5" y="360.5" width="4" height="5" fill="#fff" stroke="#000" stroke-width="1"/>
<rect x="1361" y="362" width="1" height="15" fill="#000" />
<rect x="1359" y="362" width="5" height="5" fill="#000" />
<rect x="1369" y="364" width="1" height="19" fill="#000" />
<rect x="1367" y="364" width="5" height="16" fill="#000" />
</g>
<line x1="1214" y1="271.5" x2="1326" y2="398.3" stroke="#FF0000" stroke-width="2.8"/>
<polygon points="1326.0,398.3 1315.8,394.2 1323.2,387.7" fill="#FF0000"/>
<line x1="1326" y1="398" x2="1349" y2="350.5" stroke="#FF0000" stroke-width="2.8"/>
<polygon points="1349.0,350.5 1349.1,361.5 1340.3,357.2" fill="#FF0000"/>
<line x1="1349" y1="350.5" x2="1404.6" y2="392.3" stroke="#FF0000" stroke-width="2.8"/>
<polygon points="1404.6,392.3 1393.8,390.3 1399.7,382.5" fill="#FF0000"/>
<rect x="1205" y="359" width="189" height="10" fill="#00FF00" shape-rendering="crispEdges"/>
</g>
<g shape-rendering="crispEdges">
<rect x="1418" y="363" width="7" height="1" fill="#FF0000" />
<rect x="1424.5" y="361.5" width="3" height="4" fill="#fff" stroke="#FF0000"/>
<rect x="1428.5" y="351.5" width="73" height="24" fill="#fff" stroke="#FF0000"/>
</g>
<text x="1431.0" y="370.8" font-size="20" fill="#FF0000" textLength="69.0" lengthAdjust="spacingAndGlyphs" >1.22388</text>
<text x="1433.6" y="338.3" font-size="32.6" font-weight="bold" fill="#0a3a0a" textLength="163" lengthAdjust="spacingAndGlyphs" style="font-family:'Liberation Serif','Noto Serif CJK SC',serif">多空转折点</text>
<text x="1432.6" y="337.3" font-size="32.6" font-weight="bold" fill="#00FF00" textLength="163" lengthAdjust="spacingAndGlyphs" style="font-family:'Liberation Serif','Noto Serif CJK SC',serif">多空转折点</text>
<polygon points="1378.5,27 1389.5,27 1384,32.5" fill="#b4b4b4"/>
<g shape-rendering="crispEdges">
<rect x="1632" y="48" width="2" height="1" fill="#000" />
<rect x="1632" y="81" width="2" height="1" fill="#000" />
<rect x="1632" y="114" width="2" height="1" fill="#000" />
<rect x="1632" y="147" width="2" height="1" fill="#000" />
<rect x="1632" y="180" width="2" height="1" fill="#000" />
<rect x="1632" y="213" width="2" height="1" fill="#000" />
<rect x="1632" y="246" width="2" height="1" fill="#000" />
<rect x="1632" y="279" width="2" height="1" fill="#000" />
<rect x="1632" y="312" width="2" height="1" fill="#000" />
<rect x="1632" y="345" width="2" height="1" fill="#000" />
<rect x="1632" y="378" width="2" height="1" fill="#000" />
<rect x="1632" y="411" width="2" height="1" fill="#000" />
<rect x="1632" y="444" width="2" height="1" fill="#000" />
<rect x="1632" y="477" width="2" height="1" fill="#000" />
<rect x="1632" y="510" width="2" height="1" fill="#000" />
<rect x="1632" y="543" width="2" height="1" fill="#000" />
<rect x="1632" y="576" width="2" height="1" fill="#000" />
</g>
<text x="1637.5" y="52.0" font-size="10.2" fill="#000" textLength="32.2" lengthAdjust="spacingAndGlyphs" >1.35280</text>
<text x="1637.5" y="85.0" font-size="10.2" fill="#000" textLength="32.2" lengthAdjust="spacingAndGlyphs" >1.33920</text>
<text x="1637.5" y="118.0" font-size="10.2" fill="#000" textLength="32.2" lengthAdjust="spacingAndGlyphs" >1.32560</text>
<text x="1637.5" y="151.0" font-size="10.2" fill="#000" textLength="32.2" lengthAdjust="spacingAndGlyphs" >1.31240</text>
<text x="1637.5" y="184.0" font-size="10.2" fill="#000" textLength="32.2" lengthAdjust="spacingAndGlyphs" >1.29880</text>
<text x="1637.5" y="217.0" font-size="10.2" fill="#000" textLength="32.2" lengthAdjust="spacingAndGlyphs" >1.28520</text>
<text x="1637.5" y="250.0" font-size="10.2" fill="#000" textLength="32.2" lengthAdjust="spacingAndGlyphs" >1.27160</text>
<text x="1637.5" y="283.0" font-size="10.2" fill="#000" textLength="32.2" lengthAdjust="spacingAndGlyphs" >1.25840</text>
<text x="1637.5" y="316.0" font-size="10.2" fill="#000" textLength="32.2" lengthAdjust="spacingAndGlyphs" >1.24480</text>
<text x="1637.5" y="415.0" font-size="10.2" fill="#000" textLength="32.2" lengthAdjust="spacingAndGlyphs" >1.20400</text>
<text x="1637.5" y="448.0" font-size="10.2" fill="#000" textLength="32.2" lengthAdjust="spacingAndGlyphs" >1.19080</text>
<text x="1637.5" y="481.0" font-size="10.2" fill="#000" textLength="32.2" lengthAdjust="spacingAndGlyphs" >1.17720</text>
<text x="1637.5" y="514.0" font-size="10.2" fill="#000" textLength="32.2" lengthAdjust="spacingAndGlyphs" >1.16360</text>
<text x="1637.5" y="547.0" font-size="10.2" fill="#000" textLength="32.2" lengthAdjust="spacingAndGlyphs" >1.15000</text>
<text x="1637.5" y="580.0" font-size="10.2" fill="#000" textLength="32.2" lengthAdjust="spacingAndGlyphs" >1.13680</text>
<g shape-rendering="crispEdges">
<rect x="1633" y="321" width="41" height="11" fill="#FF4500" />
<rect x="1626.5" y="325.5" width="4" height="4" fill="#fff" stroke="#FF4500"/>
</g>
<text x="1637.5" y="330.0" font-size="10.2" fill="#fff" textLength="32.2" lengthAdjust="spacingAndGlyphs" >1.23859</text>
<g shape-rendering="crispEdges">
<rect x="1633" y="341" width="41" height="11" fill="#FF0000" />
<rect x="1626.5" y="345.5" width="4" height="4" fill="#fff" stroke="#FF0000"/>
</g>
<text x="1637.5" y="350.0" font-size="10.2" fill="#fff" textLength="32.2" lengthAdjust="spacingAndGlyphs" >1.23042</text>
<g shape-rendering="crispEdges">
<rect x="1633" y="357" width="41" height="11" fill="#32CD32" />
<rect x="1626.5" y="361.5" width="4" height="4" fill="#fff" stroke="#32CD32"/>
</g>
<text x="1637.5" y="366.0" font-size="10.2" fill="#fff" textLength="32.2" lengthAdjust="spacingAndGlyphs" >1.22388</text>
<g shape-rendering="crispEdges">
<rect x="1633" y="374" width="41" height="11" fill="#000000" />
</g>
<text x="1637.5" y="383.0" font-size="10.2" fill="#fff" textLength="32.2" lengthAdjust="spacingAndGlyphs" >1.21725</text>
<g shape-rendering="crispEdges">
<rect x="1633" y="400" width="41" height="11" fill="#0000FF" />
</g>
<text x="1637.5" y="409.0" font-size="10.2" fill="#fff" textLength="32.2" lengthAdjust="spacingAndGlyphs" >1.20630</text>
<g shape-rendering="crispEdges">
<rect x="1633" y="422" width="41" height="11" fill="#0000FF" />
<rect x="1626.5" y="426.5" width="4" height="4" fill="#fff" stroke="#0000FF"/>
</g>
<text x="1637.5" y="431.0" font-size="10.2" fill="#fff" textLength="32.2" lengthAdjust="spacingAndGlyphs" >1.19731</text>
<polygon points="0,33 0,37 3.3,37" fill="#000"/>
<text x="8.2" y="38.0" font-size="10.2" fill="#000" textLength="66.5" lengthAdjust="spacingAndGlyphs" >GBPUSD-,Daily</text>
<text x="81.9" y="38.0" font-size="10.2" fill="#000" textLength="139.8" lengthAdjust="spacingAndGlyphs" >1.22218 1.22327 1.21607 1.21725</text>
<g shape-rendering="crispEdges">
<rect x="1" y="597" width="1" height="35" fill="#C0C0C0" />
<rect x="9" y="600" width="1" height="32" fill="#C0C0C0" />
<rect x="17" y="603" width="1" height="29" fill="#C0C0C0" />
<rect x="25" y="606" width="1" height="26" fill="#C0C0C0" />
<rect x="33" y="610" width="1" height="22" fill="#C0C0C0" />
<rect x="41" y="613" width="1" height="19" fill="#C0C0C0" />
<rect x="49" y="614" width="1" height="18" fill="#C0C0C0" />
<rect x="57" y="615" width="1" height="17" fill="#C0C0C0" />
<rect x="65" y="616" width="1" height="16" fill="#C0C0C0" />
<rect x="73" y="616" width="1" height="16" fill="#C0C0C0" />
<rect x="81" y="616" width="1" height="16" fill="#C0C0C0" />
<rect x="89" y="615" width="1" height="17" fill="#C0C0C0" />
<rect x="97" y="614" width="1" height="18" fill="#C0C0C0" />
<rect x="105" y="614" width="1" height="18" fill="#C0C0C0" />
<rect x="113" y="616" width="1" height="16" fill="#C0C0C0" />
<rect x="121" y="616" width="1" height="16" fill="#C0C0C0" />
<rect x="129" y="619" width="1" height="13" fill="#C0C0C0" />
<rect x="137" y="621" width="1" height="11" fill="#C0C0C0" />
<rect x="145" y="621" width="1" height="11" fill="#C0C0C0" />
<rect x="153" y="622" width="1" height="10" fill="#C0C0C0" />
<rect x="161" y="622" width="1" height="10" fill="#C0C0C0" />
<rect x="169" y="622" width="1" height="10" fill="#C0C0C0" />
<rect x="177" y="622" width="1" height="10" fill="#C0C0C0" />
<rect x="185" y="622" width="1" height="10" fill="#C0C0C0" />
<rect x="193" y="621" width="1" height="11" fill="#C0C0C0" />
<rect x="201" y="619" width="1" height="13" fill="#C0C0C0" />
<rect x="209" y="616" width="1" height="16" fill="#C0C0C0" />
<rect x="217" y="612" width="1" height="20" fill="#C0C0C0" />
<rect x="225" y="610" width="1" height="22" fill="#C0C0C0" />
<rect x="233" y="608" width="1" height="24" fill="#C0C0C0" />
<rect x="241" y="607" width="1" height="25" fill="#C0C0C0" />
<rect x="249" y="607" width="1" height="25" fill="#C0C0C0" />
<rect x="257" y="605" width="1" height="27" fill="#C0C0C0" />
<rect x="265" y="597" width="1" height="35" fill="#C0C0C0" />
<rect x="273" y="595" width="1" height="37" fill="#C0C0C0" />
<rect x="281" y="593" width="1" height="39" fill="#C0C0C0" />
<rect x="289" y="594" width="1" height="38" fill="#C0C0C0" />
<rect x="297" y="599" width="1" height="33" fill="#C0C0C0" />
<rect x="305" y="604" width="1" height="28" fill="#C0C0C0" />
<rect x="313" y="610" width="1" height="22" fill="#C0C0C0" />
<rect x="321" y="615" width="1" height="17" fill="#C0C0C0" />
<rect x="329" y="620" width="1" height="12" fill="#C0C0C0" />
<rect x="337" y="625" width="1" height="7" fill="#C0C0C0" />
<rect x="345" y="629" width="1" height="3" fill="#C0C0C0" />
<rect x="361" y="631" width="1" height="1" fill="#C0C0C0" />
<rect x="369" y="631" width="1" height="1" fill="#C0C0C0" />
<rect x="377" y="630" width="1" height="2" fill="#C0C0C0" />
<rect x="385" y="628" width="1" height="4" fill="#C0C0C0" />
<rect x="393" y="625" width="1" height="7" fill="#C0C0C0" />
<rect x="401" y="621" width="1" height="11" fill="#C0C0C0" />
<rect x="409" y="621" width="1" height="11" fill="#C0C0C0" />
<rect x="417" y="622" width="1" height="10" fill="#C0C0C0" />
<rect x="425" y="625" width="1" height="7" fill="#C0C0C0" />
<rect x="433" y="624" width="1" height="8" fill="#C0C0C0" />
<rect x="441" y="624" width="1" height="8" fill="#C0C0C0" />
<rect x="449" y="624" width="1" height="8" fill="#C0C0C0" />
<rect x="457" y="627" width="1" height="5" fill="#C0C0C0" />
<rect x="465" y="628" width="1" height="4" fill="#C0C0C0" />
<rect x="473" y="630" width="1" height="2" fill="#C0C0C0" />
<rect x="481" y="631" width="1" height="1" fill="#C0C0C0" />
<rect x="489" y="631" width="1" height="2" fill="#C0C0C0" />
<rect x="497" y="631" width="1" height="3" fill="#C0C0C0" />
<rect x="505" y="631" width="1" height="2" fill="#C0C0C0" />
<rect x="513" y="631" width="1" height="3" fill="#C0C0C0" />
<rect x="521" y="631" width="1" height="4" fill="#C0C0C0" />
<rect x="529" y="631" width="1" height="5" fill="#C0C0C0" />
<rect x="537" y="631" width="1" height="3" fill="#C0C0C0" />
<rect x="545" y="631" width="1" height="2" fill="#C0C0C0" />
<rect x="553" y="631" width="1" height="1" fill="#C0C0C0" />
<rect x="561" y="631" width="1" height="1" fill="#C0C0C0" />
<rect x="569" y="631" width="1" height="1" fill="#C0C0C0" />
<rect x="577" y="631" width="1" height="1" fill="#C0C0C0" />
<rect x="585" y="631" width="1" height="1" fill="#C0C0C0" />
<rect x="593" y="631" width="1" height="1" fill="#C0C0C0" />
<rect x="601" y="631" width="1" height="1" fill="#C0C0C0" />
<rect x="609" y="629" width="1" height="3" fill="#C0C0C0" />
<rect x="617" y="627" width="1" height="5" fill="#C0C0C0" />
<rect x="625" y="630" width="1" height="2" fill="#C0C0C0" />
<rect x="633" y="631" width="1" height="1" fill="#C0C0C0" />
<rect x="641" y="631" width="1" height="1" fill="#C0C0C0" />
<rect x="649" y="631" width="1" height="3" fill="#C0C0C0" />
<rect x="657" y="631" width="1" height="7" fill="#C0C0C0" />
<rect x="665" y="631" width="1" height="9" fill="#C0C0C0" />
<rect x="673" y="631" width="1" height="11" fill="#C0C0C0" />
<rect x="681" y="631" width="1" height="11" fill="#C0C0C0" />
<rect x="689" y="631" width="1" height="11" fill="#C0C0C0" />
<rect x="697" y="631" width="1" height="8" fill="#C0C0C0" />
<rect x="705" y="631" width="1" height="6" fill="#C0C0C0" />
<rect x="713" y="631" width="1" height="5" fill="#C0C0C0" />
<rect x="721" y="631" width="1" height="4" fill="#C0C0C0" />
<rect x="729" y="631" width="1" height="4" fill="#C0C0C0" />
<rect x="737" y="631" width="1" height="6" fill="#C0C0C0" />
<rect x="745" y="631" width="1" height="7" fill="#C0C0C0" />
<rect x="753" y="631" width="1" height="7" fill="#C0C0C0" />
<rect x="761" y="631" width="1" height="7" fill="#C0C0C0" />
<rect x="769" y="631" width="1" height="7" fill="#C0C0C0" />
<rect x="777" y="631" width="1" height="6" fill="#C0C0C0" />
<rect x="785" y="631" width="1" height="7" fill="#C0C0C0" />
<rect x="793" y="631" width="1" height="8" fill="#C0C0C0" />
<rect x="801" y="631" width="1" height="11" fill="#C0C0C0" />
<rect x="809" y="631" width="1" height="14" fill="#C0C0C0" />
<rect x="817" y="631" width="1" height="16" fill="#C0C0C0" />
<rect x="825" y="631" width="1" height="17" fill="#C0C0C0" />
<rect x="833" y="631" width="1" height="15" fill="#C0C0C0" />
<rect x="841" y="631" width="1" height="11" fill="#C0C0C0" />
<rect x="849" y="631" width="1" height="8" fill="#C0C0C0" />
<rect x="857" y="631" width="1" height="3" fill="#C0C0C0" />
<rect x="865" y="631" width="1" height="1" fill="#C0C0C0" />
<rect x="873" y="631" width="1" height="1" fill="#C0C0C0" />
<rect x="881" y="631" width="1" height="3" fill="#C0C0C0" />
<rect x="889" y="631" width="1" height="12" fill="#C0C0C0" />
<rect x="897" y="631" width="1" height="25" fill="#C0C0C0" />
<rect x="905" y="631" width="1" height="33" fill="#C0C0C0" />
<rect x="913" y="631" width="1" height="42" fill="#C0C0C0" />
<rect x="921" y="631" width="1" height="52" fill="#C0C0C0" />
<rect x="929" y="631" width="1" height="73" fill="#C0C0C0" />
<rect x="937" y="631" width="1" height="90" fill="#C0C0C0" />
<rect x="945" y="631" width="1" height="100" fill="#C0C0C0" />
<rect x="953" y="631" width="1" height="108" fill="#C0C0C0" />
<rect x="961" y="631" width="1" height="112" fill="#C0C0C0" />
<rect x="969" y="631" width="1" height="109" fill="#C0C0C0" />
<rect x="977" y="631" width="1" height="104" fill="#C0C0C0" />
<rect x="985" y="631" width="1" height="90" fill="#C0C0C0" />
<rect x="993" y="631" width="1" height="71" fill="#C0C0C0" />
<rect x="1001" y="631" width="1" height="56" fill="#C0C0C0" />
<rect x="1009" y="631" width="1" height="46" fill="#C0C0C0" />
<rect x="1017" y="631" width="1" height="36" fill="#C0C0C0" />
<rect x="1025" y="631" width="1" height="30" fill="#C0C0C0" />
<rect x="1033" y="631" width="1" height="23" fill="#C0C0C0" />
<rect x="1041" y="631" width="1" height="21" fill="#C0C0C0" />
<rect x="1049" y="631" width="1" height="20" fill="#C0C0C0" />
<rect x="1057" y="631" width="1" height="20" fill="#C0C0C0" />
<rect x="1065" y="631" width="1" height="15" fill="#C0C0C0" />
<rect x="1073" y="631" width="1" height="11" fill="#C0C0C0" />
<rect x="1081" y="631" width="1" height="6" fill="#C0C0C0" />
<rect x="1089" y="631" width="1" height="2" fill="#C0C0C0" />
<rect x="1097" y="629" width="1" height="3" fill="#C0C0C0" />
<rect x="1105" y="623" width="1" height="9" fill="#C0C0C0" />
<rect x="1113" y="620" width="1" height="12" fill="#C0C0C0" />
<rect x="1121" y="619" width="1" height="13" fill="#C0C0C0" />
<rect x="1129" y="619" width="1" height="13" fill="#C0C0C0" />
<rect x="1137" y="619" width="1" height="13" fill="#C0C0C0" />
<rect x="1145" y="620" width="1" height="12" fill="#C0C0C0" />
<rect x="1153" y="624" width="1" height="8" fill="#C0C0C0" />
<rect x="1161" y="627" width="1" height="5" fill="#C0C0C0" />
<rect x="1169" y="629" width="1" height="3" fill="#C0C0C0" />
<rect x="1177" y="630" width="1" height="2" fill="#C0C0C0" />
<rect x="1185" y="631" width="1" height="1" fill="#C0C0C0" />
<rect x="1193" y="630" width="1" height="2" fill="#C0C0C0" />
<rect x="1201" y="629" width="1" height="3" fill="#C0C0C0" />
<rect x="1209" y="628" width="1" height="4" fill="#C0C0C0" />
<rect x="1217" y="624" width="1" height="8" fill="#C0C0C0" />
<rect x="1225" y="623" width="1" height="9" fill="#C0C0C0" />
<rect x="1233" y="623" width="1" height="9" fill="#C0C0C0" />
<rect x="1241" y="624" width="1" height="8" fill="#C0C0C0" />
<rect x="1249" y="626" width="1" height="6" fill="#C0C0C0" />
<rect x="1257" y="627" width="1" height="5" fill="#C0C0C0" />
<rect x="1265" y="630" width="1" height="2" fill="#C0C0C0" />
<rect x="1273" y="630" width="1" height="2" fill="#C0C0C0" />
<rect x="1281" y="630" width="1" height="2" fill="#C0C0C0" />
<rect x="1289" y="631" width="1" height="1" fill="#C0C0C0" />
<rect x="1297" y="631" width="1" height="4" fill="#C0C0C0" />
<rect x="1305" y="631" width="1" height="7" fill="#C0C0C0" />
<rect x="1313" y="631" width="1" height="10" fill="#C0C0C0" />
<rect x="1321" y="631" width="1" height="15" fill="#C0C0C0" />
<rect x="1329" y="631" width="1" height="19" fill="#C0C0C0" />
<rect x="1337" y="631" width="1" height="19" fill="#C0C0C0" />
<rect x="1345" y="631" width="1" height="18" fill="#C0C0C0" />
<rect x="1353" y="631" width="1" height="17" fill="#C0C0C0" />
<rect x="1361" y="631" width="1" height="17" fill="#C0C0C0" />
<rect x="1369" y="631" width="1" height="17" fill="#C0C0C0" />
<path transform="translate(.5,.5)" d="M1 589v0m1 1h1m4 1h2m4 1v0m1 1h1m4 1h2m4 1v0m1 1h1m4 1h1m1 1v0m4 1h2m4 1v0m1 1h1m4 1h2m4 2h2m4 2h2m4 1v0m1 1h1m4 1h2m4 1h1m1 1v0m4 1h2m4 1h2m4 1h2m4 0h2m4 0h2m4 1h2m4 0h2m4 0h2m4 0h2m4 1h2m4 0h2m4 0h2m4 1h2m4 0h2m4 1h2m4 0h2m4 1h2m4 0h2m4 0v0m1 1h1m4 0h2m4 0h2m4 0h2m4-1h2m4-1h1m1-1v0m4 0v0m1-1h1m4-1h2m4-1h2m4-1h2m4-1h1m1-1v0m4-1h1m1-1v0m4-1h1m1-1v0m4-1h1m1-1v0m4-1v0m1-1h1m4-1h2m4-1h2m4-1h2m4 0h2m4-1h2m4 0h2m4 1h2m4 0h1m1 1v0m4 2h2m4 2h1m1 1v0m4 2h1m1 1v0m4 2h1m1 1v0m4 2v0m1 1h1m4 2v0m1 1h1m4 2h1m1 1v0m4 1h1m1 1v0m4 1h2m4 1h2m4 1h1m1 1v0m4 0h2m4 0h2m4 0h2m4-1h2m4-1h2m4-1h2m4 0h2m4 0h2m4 0h2m4-1h2m4 0h2m4 0h2m4 0h2m4 0v0m1 1h1m4 1h1m1 1v0m4 1h2m4 1h2m4 0h2m4 1h2m4 1h2m4 1h2m4 1h2m4 0h1m1 1v0m4 0h2m4 0h2m4 0h2m4 0h2m4 0h2m4 0h2m4 0h2m4 0h2m4 0h2m4 0h1m1-1v0m4 0h2m4 0h2m4-1h2m4 0h2m4-1h2m4 0h2m4 0h2m4 0h2m4 0h2m4 0h1m1 1v0m4 0h2m4 1h2m4 1h2m4 1h2m4 1h2m4 1h2m4 1h2m4 0v0m1 1h1m4 0h2m4 1h2m4 1h2m4 0h2m4-1h2m4 0h2m4 0h2m4-1h2m4 0h2m4 0h2m4-1h2m4 0h2m4 0h2m4 0h2m4 0h2m4 1h2m4 1h2m4 0h1m1 1v0m4 0h2m4 1h2m4 1h2m4 1h2m4 0h2m4 0h2m4 0h2m4 0h2m4 0h2m4-1h2m4-1h2m4-1h2m4-1h2m4 0h2m4 1h2m4 1h1m1 1v0m4 1h1m1 1v0m4 1v0m1 1h1m4 3v0m1 1v0m1 1v0m4 3v0m1 1v0m1 1v0m3 4v0m1 1v0m1 1v0m4 4v0m1 1v1m4 4v1m1 1v0m3 4v1m1 1v0m3 4v1m1 1v0m3 4v0m1 1v1m3 4v0m1 1v0m1 1v0m3 4v0m1 1v1m4 4v0m1 1v0m1 1v0m3 4v0m1 1v0m1 1v0m4 4h1m1 1v0m4 2h2m4 2h2m4 1v0m1-1h1m4-1v0m1-1h1m4-3v0m1-1v0m1-1v0m4-2v0m1-1v0m1-1v0m3-4v0m1-1v0m1-1v0m3-4v0m1-1v0m1-1v0m4-4v-1m1-1v0m4-4v0m1-1v0m1-1v0m3-4v0m1-1v0m1-1v0m3-4v0m1-1v-1m4-4v-1m1-1v0m4-4h1m1-1v0m4-4h1m1-1v0m4-3v0m1-1h1m4-3h1m1-1v0m4-2v0m1-1h1m4-2v0m1-1h1m4-3h1m1-1v0m4-2h1m1-1v0m4-1v0m1-1h1m4-2h2m4-2h1m1-1v0m4-2h2m4-2h1m1-1v0m4-1v0m1-1h1m4-2h2m4-1h2m4-1h2m4-1h2m4-1h2m4 0v0m1 1h1m4 0h2m4 0v0m1 1h1m4 0h2m4 1h2m4 1h2m4 1v0m1 1h1m4 0h2m4 0h2m4 0h2m4 0h1m1-1v0m4 0h2m4 0h2m4 0h1m1-1v0m4 0h2m4 0h2m4 0h2m4 0h2m4 0h2m4 0h2m4 0v0m1 1h1m4 1h2m4 1v0m1 1h1m4 1h2m4 2h2m4 2h2m4 2h2m4 2h2m4 1h1m1 1v0m4 1h2m4 1v0m1 1h1m4 1h1m1 1v0m4 0h2m4 1h2" stroke="#FF0000" stroke-width="1" stroke-linecap="square" fill="none"/>
<rect x="1632" y="631" width="1" height="1" fill="#000" />
</g>
<text x="-1.0" y="594.0" font-size="10.2" fill="#000" textLength="63.9" lengthAdjust="spacingAndGlyphs" >MACD(12,26,9)</text>
<text x="66.3" y="594.0" font-size="10.2" fill="#000" textLength="40.0" lengthAdjust="spacingAndGlyphs" >-0.005719</text>
<text x="110.1" y="594.0" font-size="10.2" fill="#000" textLength="40.5" lengthAdjust="spacingAndGlyphs" >-0.005117</text>
<text x="1635.2" y="592.0" font-size="10.2" fill="#000" textLength="38.3" lengthAdjust="spacingAndGlyphs" >0.015383</text>
<text x="1635.2" y="635.0" font-size="10.2" fill="#000" textLength="18.0" lengthAdjust="spacingAndGlyphs" >0.00</text>
<text x="1635.2" y="748.0" font-size="10.2" fill="#000" textLength="41.7" lengthAdjust="spacingAndGlyphs" >-0.038442</text>
<g shape-rendering="crispEdges">
<line x1="0" y1="789.5" x2="1631" y2="789.5" stroke="#C0C0C0" stroke-width="1" stroke-dasharray="3,3"/>
<line x1="0" y1="840.5" x2="1631" y2="840.5" stroke="#C0C0C0" stroke-width="1" stroke-dasharray="3,3"/>
<line x1="0" y1="901.5" x2="1631" y2="901.5" stroke="#C0C0C0" stroke-width="1" stroke-dasharray="3,3"/>
<path transform="translate(.5,.5)" d="M-7 817h1m1 1h3m1 1h3m1 1h1m1 1h2m1 1h2m1 1h1m1 1h2m1 1h1m1 1v0m1 1v0m1 1v0m1 1h1m1 1v0m1 1v0m1 1v0m1 1v0m1 1v0m1 1v0m1 1h1m1 1v0m1 1v0m1 1h1m1-1h3m1-1h2m1-1v0m1-1v0m1-1v0m1-1v-1m1-1v0m1-1v0m1-1v0m1-1h3m1 1h7m1-1h4m1-1h1m1-1h1m1-1h1m1-1h2m1-1h1m1-1h2m1-1h2m1-1h1m1-1h2m1-1h1m1-1h1m1-1h1m1-1h1m1-1h1m1 1h1m1 1v0m1 1h1m1 1h1m1 1h3m1 1h5m1 1h3m1 1h2m0 1v0m1 1v1m1 1v2m1 1v2m1 1v1m1 1v2m1 1v2m1 1v1m1 1v1m1-1h1m1-1v0m1-1h1m1-1h1m1-1v0m1-1v0m1-1v0m1-1v0m1-1v0m1-1v0m1-1v0m1-1v0m1-1v0m1 1v0m1 1v0m1 1v0m1 1v0m1 1v0m1 1v0m1 1v0m1 1v0m1-1v-1m1-1v0m1-1v-1m1-1v0m1-1v-1m1-1v0m1-1v-1m1-1v0m1 1h1m1 1h1m1 1h1m1 1h1m1-1h1m1-1h1m1-1h1m1-1h1m1 1h1m1 1v0m1 1h1m1 1h1m1 1v0m1-1h1m1-1v0m1-1h1m1-1h1m1-1v0m1-1v0m1-1v0m1-1v0m1-1v0m1-1v0m1-1v0m1-1v0m1-1v0m1-1v-1m1-1v-1m1-1v0m1-1v-1m1-1v0m1-1v-1m1-1v-1m1-1v0m1-1h1m1-1v0m1-1h1m1-1h1m1-1v0m1 1h1m1 1v0m1 1h1m1 1h1m1 1h9m1-1h3m1-1h2m1 1v0m1 1h1m1 1v0m1 1v0m1 1h1m1 1v0m1-1v0m1-1v0m1-1v0m1-1v0m1-1v0m1-1v0m1-1v0m1-1v-1m1-1v-1m1-1v-1m1-1v-1m1-1v-2m1-1v-1m1-1v-1m1-1v-1m1-1v-1m0 1v0m1 1v2m1 1v2m1 1v2m1 1v2m1 1v2m1 1v2m1 1v2m1 1v1m1 0h2m1-1h4m1 1v1m1 1v1m1 1v1m1 1v0m1 1v1m1 1v1m1 1v1m1 1v0m1 1v1m1 1v1m1 1v1m1 1v1m1 1v1m1 1v1m1 1v1m1 1v1m1 1h1m1 1v0m1 1h1m1 1h1m1 1v0m1 1v0m1 1h1m1 1v0m1 1v0m1 1h1m1 1h11m1 1h4m1 1v0m1 1v0m1 1v0m1 1h1m1 1v0m1 1v0m1 1h3m1 1h4m1-1v0m1-1h1m1-1v0m1-1v0m1-1h1m1-1v0m1-1h1m1-1v0m1-1h1m1-1h1m1-1v0m1-1v-1m1-1v0m1-1v0m1-1v-1m1-1v0m1-1v0m1-1v-1m1-1h3m1 1h5m1-1h3m1-1h2m1-1v-1m1-1v-1m1-1v-1m1-1v-1m1-1v-1m1-1v-1m1-1v-1m1-1h8m1 1v1m1 1v1m1 1v1m1 1v0m1 1v1m1 1v1m1 1v1m1 1v0m1 1v0m1 1v0m1 1v0m1 1v1m1 1v0m1 1v0m1 1v0m1 1h8m1-1v0m1-1v-1m1-1v0m1-1v0m1-1v0m1-1v-1m1-1v0m1-1v0m1 1v0m1 1v0m1 1v0m1 1h1m1 1v0m1 1v0m1 1h3m1 1h4m1 1h1m1 1h1m1 1h1m1 1h4m1 1h5m1 1h1m1 1h2m1 1h1m1 1v0m1 1v0m1 1v0m1 1h1m1 1v0m1 1v0m1 1v0m1-1v0m1-1h1m1-1v0m1-1v0m1-1h1m1-1h1m1-1h3m1-1h2m1-1v0m1-1h1m1-1v0m1-1v0m1-1h1m1-1v0m1 1v0m1 1v0m1 1v0m1 1v0m1 1v0m1 1v0m1 1v0m1 1h1m1 1h3m1 1h10m1-1v0m1-1v0m1-1v0m1-1h1m1-1v0m1-1v0m1-1v0m1-1v-1m1-1v-1m1-1v-1m1-1v-1m1-1v-1m1-1v-1m1-1v-1m1-1v0m1 1h1m1 1v0m1 1h1m1 1h1m1 1v0m1 1h1m1 1v0m1 1h1m1 1h1m1 1v0m1 1h1m1 1h1m1 1h1m1 1h9m1 1v0m1 1h1m1 1v0m1 1v0m1 1h1m1 1h8m1-1v0m1-1v-1m1-1v0m1-1v0m1-1v0m1-1v-1m1-1v0m1-1v-1m1-1v-1m1-1v-1m1-1v-1m1-1v-1m1-1v-1m1-1v-1m1-1v-1m1-1v-1m1 0v0m1 1h1m1 1h2m1 1h1m0 1v0m1 1v3m1 1v2m1 1v2m1 1v3m1 1v2m1 1v2m1 1v3m1 1v1m1-1h1m1-1v0m1-1h1m1-1h1m1-1v0m1 1h1m1 1h1m1 1h1m1 1h1m1 1v0m1 1v0m1 1v0m1 1h1m1 1v0m1 1v0m1 1v0m1 1h1m1 1v0m1 1h1m1 1h1m1 1h3m1-1h4m1-1h1m1-1h1m1-1h1m1-1h1m1-1v0m1-1v0m1-1v0m1-1h1m1-1v0m1-1v0m1-1h8m1-1v-1m1-1v-1m1-1v-1m1-1v0m1-1v-1m1-1v-1m1-1v-1m1-1h1m1 1h3m1 1h3m1-1h3m1-1h2m1 1v0m1 1v0m1 1v0m1 1h1m1 1v0m1 1v0m1 1h3m1 1h4m1 1v0m1 1v1m1 1v0m1 1v0m1 1v0m1 1v1m1 1v0m1 1v0m1 1v0m1 1h1m1 1v0m1 1v0m1 1h1m1 1v0m1-1v-1m1-1v-1m1-1v-1m1-1v-1m1-1v-1m1-1v-1m1-1v-1m1-1v-1m1 0v0m1 1h1m1 1h2m1 1h1m1 1h1m1 1h1m1 1h1m1 1h1m1-1v-1m1-1v0m1-1v-1m1-1v0m1-1v-1m1-1v0m1-1v-1m1-1v0m1 1v1m1 1v0m1 1v1m1 1v0m1 1v1m1 1v0m1 1v1m1 1h1m1 1h1m1 1h2m1 1h1m1 1v0m1 1v1m1 1v0m1 1v0m1 1v0m1 1v1m1 1v0m1 1h1m1-1h1m1-1h2m1-1h1m1 1h1m1 1h1m1 1h1m1 1h1m1-1v0m1-1v0m1-1v0m1-1v-1m1-1v0m1-1v0m1-1v0m1-1v0m1-1v0m1-1v0m1-1v0m1-1v-1m1-1v0m1-1v0m1-1v0m1-1v0m1-1v0m1-1v0m1-1v0m1-1v-1m1-1v0m1-1v0m1-1v0m1-1v0m1-1v0m1-1v0m1-1v0m1-1v0m1-1v0m1-1v0m1-1v0m1-1v0m1-1v0m1-1v0m1-1v0m1-1v0m1-1v0m1-1v0m1-1v0m1-1h1m1 1h1m1 1h2m1 1h1m0 1v0m1 1v1m1 1v2m1 1v2m1 1v1m1 1v2m1 1v2m1 1v1m1 1v1m1 1v0m1 1v0m1 1v0m1 1v0m1 1v0m1 1v0m1 1v0m1 1v1m1 1v1m1 1v1m1 1v1m1 1v1m1 1v1m1 1v1m1 1v1m1 1v1m1 1v1m1 1v0m1 1v1m1 1v0m1 1v1m1 1v0m1 1v1m1 1v0m1-1v0m1-1v-1m1-1v0m1-1v0m1-1v0m1-1v-1m1-1v0m1-1v0m1 1v0m1 1h1m1 1v0m1 1v0m1 1h1m1 1v0m1 1h1m1 1h1m1 1h1m1 1h1m1 1v1m1 1v0m1 1v1m1 1v0m1 1v1m1 1v0m1 1v1m1 1v0m1 1h1m1 1h1m1 1h1m1 1h1m1-1v0m1-1v0m1-1v0m1-1v0m1-1v0m1-1v0m1-1v0m1-1h1m1-1h1m1-1h2m1-1h9m0-1v0m1-1v-1m1-1v-1m1-1v-1m1-1v-1m1-1v-1m1-1v-1m1-1v-1m1-1v-1m1-1h1m1-1h1m1-1h1m1-1h1m0-1v0m1-1v-2m1-1v-1m1-1v-2m1-1v-2m1-1v-2m1-1v-1m1-1v-2m1-1v-1m1-1v-1m1-1v0m1-1v-1m1-1v0m1-1v-1m1-1v0m1-1v-1m1-1h3m1 1h4m1 1h1m1 1h1m1 1h1m1 1h4m1-1h7m1 1h7m1-1h4m1 1v0m1 1v0m1 1v0m1 1h1m1 1v0m1 1v0m1 1h1m1 1h1m1 1h2m1 1h4m1-1h4m1-1v0m1-1v0m1-1v0m1-1h1m1-1v0m1-1v0m1-1v0m1-1h1m1-1h1m1-1h1m1-1h2m1-1h1m1-1h2m1-1h9m1-1h1m1-1h1m1-1h1m1-1h1m1-1v0m1-1v0m1-1v0m1-1h1m1-1v0m1-1v0m1-1v0m1 1v0m1 1v0m1 1v0m1 1v1m1 1v0m1 1v0m1 1v0m1 1h1m1 1h1m1 1h2m1 1h17m1 1h1m1 1h1m1 1h1m1 1h1m1 1v1m1 1v0m1 1v1m1 1v0m1 1v1m1 1v0m1 1v1m1 1h1m1-1h3m1-1h3m1-1h1m1-1h2m1-1h12m1-1h4m1-1v0m1-1h1m1-1v0m1-1v0m1-1h1m1-1h3m1-1h4m1-1h1m1-1h1m1-1h1m1-1h1m1-1v-1m1-1v0m1-1v0m1-1v-1m1-1v0m1-1v0m1-1v-1m1-1v0m1 1v1m1 1v0m1 1v1m1 1v0m1 1v1m1 1v0m1 1v1m1 1h1m1 1h1m1 1h2m1 1h2m1 1h3m1 1h10m1 1v1m1 1v1m1 1v0m1 1v1m1 1v0m1 1v1m1 1v1m1 1v0m1-1v0m1-1v0m1-1v0m1-1h1m1-1v0m1-1v0m1-1h1m1-1h1m1-1h2m1-1h4m1-1h4m1 1v0m1 1v1m1 1v0m1 1v0m1 1v0m1 1v1m1 1v0m1 1v0m1 1v0m1 1v0m1 1v0m1 1v0m1 1v0m1 1v0m1 1v0m1 1h3m1 1h12m1 1v1m1 1v0m1 1v0m1 1v1m1 1v0m1 1v0m1 1v1m1 1h1m1 1h3m1 1h2m0-1v0m1-1v-1m1-1v-1m1-1v-1m1-1v-1m1-1v-1m1-1v-1m1-1v-1m1-1v-1m1-1v0m1-1v0m1-1v0m1-1h1m1-1v0m1-1v0m1-1h1m1 1h3m1 1h3m1 1h3m1 1h2m1 1h1m1 1h1m1 1h1m1 1h1" stroke="#1E90FF" stroke-width="1" stroke-linecap="square" fill="none"/>
<rect x="57" y="927" width="1" height="4" fill="#000" />
<rect x="121" y="927" width="1" height="4" fill="#000" />
<rect x="185" y="927" width="1" height="4" fill="#000" />
<rect x="249" y="927" width="1" height="4" fill="#000" />
<rect x="313" y="927" width="1" height="4" fill="#000" />
<rect x="377" y="927" width="1" height="4" fill="#000" />
<rect x="441" y="927" width="1" height="4" fill="#000" />
<rect x="505" y="927" width="1" height="4" fill="#000" />
<rect x="569" y="927" width="1" height="4" fill="#000" />
<rect x="633" y="927" width="1" height="4" fill="#000" />
<rect x="697" y="927" width="1" height="4" fill="#000" />
<rect x="761" y="927" width="1" height="4" fill="#000" />
<rect x="825" y="927" width="1" height="4" fill="#000" />
<rect x="889" y="927" width="1" height="4" fill="#000" />
<rect x="953" y="927" width="1" height="4" fill="#000" />
<rect x="1017" y="927" width="1" height="4" fill="#000" />
<rect x="1081" y="927" width="1" height="4" fill="#000" />
<rect x="1145" y="927" width="1" height="4" fill="#000" />
<rect x="1209" y="927" width="1" height="4" fill="#000" />
<rect x="1273" y="927" width="1" height="4" fill="#000" />
<rect x="1337" y="927" width="1" height="4" fill="#000" />
</g>
<text x="-1.5" y="766.0" font-size="10.2" fill="#000" textLength="30.1" lengthAdjust="spacingAndGlyphs" >RSI(14)</text>
<text x="31.9" y="766.0" font-size="10.2" fill="#000" textLength="32.9" lengthAdjust="spacingAndGlyphs" >40.5475</text>
<text x="1634.1" y="764.0" font-size="10.2" fill="#000" textLength="15.2" lengthAdjust="spacingAndGlyphs" >100</text>
<text x="1634.1" y="793.0" font-size="10.2" fill="#000" textLength="10.1" lengthAdjust="spacingAndGlyphs" >80</text>
<text x="1634.1" y="844.0" font-size="10.2" fill="#000" textLength="10.1" lengthAdjust="spacingAndGlyphs" >50</text>
<text x="1634.1" y="905.0" font-size="10.2" fill="#000" textLength="10.1" lengthAdjust="spacingAndGlyphs" >15</text>
<text x="1634.1" y="924.0" font-size="10.2" fill="#000" textLength="5.1" lengthAdjust="spacingAndGlyphs" >0</text>
<text x="0.7" y="940.0" font-size="10.2" fill="#000" textLength="40.1" lengthAdjust="spacingAndGlyphs" >Nov 2019</text>
<text x="56.5" y="940.0" font-size="10.2" fill="#000" textLength="53.4" lengthAdjust="spacingAndGlyphs" >12 Nov 2019</text>
<text x="120.5" y="940.0" font-size="10.2" fill="#000" textLength="53.4" lengthAdjust="spacingAndGlyphs" >21 Nov 2019</text>
<text x="184.5" y="940.0" font-size="10.2" fill="#000" textLength="46.6" lengthAdjust="spacingAndGlyphs" >1 Dec 2019</text>
<text x="248.5" y="940.0" font-size="10.2" fill="#000" textLength="51.6" lengthAdjust="spacingAndGlyphs" >10 Dec 2019</text>
<text x="312.5" y="940.0" font-size="10.2" fill="#000" textLength="51.6" lengthAdjust="spacingAndGlyphs" >19 Dec 2019</text>
<text x="376.5" y="940.0" font-size="10.2" fill="#000" textLength="51.6" lengthAdjust="spacingAndGlyphs" >29 Dec 2019</text>
<text x="440.5" y="940.0" font-size="10.2" fill="#000" textLength="45.0" lengthAdjust="spacingAndGlyphs" >7 Jan 2020</text>
<text x="504.5" y="940.0" font-size="10.2" fill="#000" textLength="50.0" lengthAdjust="spacingAndGlyphs" >16 Jan 2020</text>
<text x="568.5" y="940.0" font-size="10.2" fill="#000" textLength="50.0" lengthAdjust="spacingAndGlyphs" >26 Jan 2020</text>
<text x="632.5" y="940.0" font-size="10.2" fill="#000" textLength="46.3" lengthAdjust="spacingAndGlyphs" >4 Feb 2020</text>
<text x="696.5" y="940.0" font-size="10.2" fill="#000" textLength="51.3" lengthAdjust="spacingAndGlyphs" >13 Feb 2020</text>
<text x="760.5" y="940.0" font-size="10.2" fill="#000" textLength="51.3" lengthAdjust="spacingAndGlyphs" >23 Feb 2020</text>
<text x="824.5" y="940.0" font-size="10.2" fill="#000" textLength="46.7" lengthAdjust="spacingAndGlyphs" >3 Mar 2020</text>
<text x="888.5" y="940.0" font-size="10.2" fill="#000" textLength="51.7" lengthAdjust="spacingAndGlyphs" >12 Mar 2020</text>
<text x="952.5" y="940.0" font-size="10.2" fill="#000" textLength="51.7" lengthAdjust="spacingAndGlyphs" >22 Mar 2020</text>
<text x="1016.5" y="940.0" font-size="10.2" fill="#000" textLength="51.7" lengthAdjust="spacingAndGlyphs" >31 Mar 2020</text>
<text x="1080.5" y="940.0" font-size="10.2" fill="#000" textLength="45.3" lengthAdjust="spacingAndGlyphs" >9 Apr 2020</text>
<text x="1144.5" y="940.0" font-size="10.2" fill="#000" textLength="50.3" lengthAdjust="spacingAndGlyphs" >20 Apr 2020</text>
<text x="1208.5" y="940.0" font-size="10.2" fill="#000" textLength="50.3" lengthAdjust="spacingAndGlyphs" >29 Apr 2020</text>
<text x="1272.5" y="940.0" font-size="10.2" fill="#000" textLength="49.9" lengthAdjust="spacingAndGlyphs" >8 May 2020</text>
<text x="1336.5" y="940.0" font-size="10.2" fill="#000" textLength="54.9" lengthAdjust="spacingAndGlyphs" >18 May 2020</text>
<!--/CHART-->
<!--TOOLBAR-->
<rect x="0" y="0" width="1678" height="22" fill="#f0f0f0" />
<g shape-rendering="crispEdges">
<rect x="0" y="21" width="1678" height="1" fill="#f7f7f7" />
<rect x="0" y="22" width="1678" height="1" fill="#a8a8a8" />
<rect x="0" y="23" width="1678" height="1" fill="#686868" />
</g>
<path d="M2.5,2.5 h7 l4,4 v8.5 h-11 z" fill="#fff" stroke="#7a7a7a" stroke-width="1"/>
<path d="M4.5,5.5h3M4.5,8.5h6M4.5,10.5h5M4.5,12.5h3" stroke="#9a9a9a" stroke-width="1"/>
<path d="M10,8.8 h4 v3.5 h3.7 v4 h-3.7 v3.3 h-4 v-3.3 h-3.7 v-4 h3.7 z" fill="#34d034" stroke="#128a12" stroke-width="0.9"/>
<text x="20.5" y="12.9" font-size="12.2" fill="#000" textLength="36.6" lengthAdjust="spacingAndGlyphs" style="font-family:'Liberation Sans','Noto Sans CJK SC',sans-serif">新订单</text>
<path d="M69,11.5 L74.5,3 L85,10.5 L76,17.5 Z" fill="#c8921c" stroke="#a06a10" stroke-width="0.8"/>
<path d="M70.5,10.8 L75,4.2 L83.5,10 L76.5,15 Z" fill="#f4cc50"/>
<rect x="100.5" y="2.5" width="10" height="9" fill="#38a0f0" stroke="#2a72c0" stroke-width="0.8"/>
<rect x="102.5" y="5" width="6" height="1.5" fill="#d8ecff"/>
<path d="M99,17.5 a3.2,3.2 0 0 1 0.5,-6.3 a4,4 0 0 1 7.5,-0.8 a3.5,3.5 0 0 1 4.5,3.6 a2,2 0 0 1 -1,3.5 z" fill="#e8f0fa" stroke="#7a98c8" stroke-width="0.8"/>
<circle cx="133" cy="10.5" r="7" fill="#d8e4f0" stroke="#9ab0c8" stroke-width="0.8"/>
<path d="M133,10.5 L133,18 A7.5,7.5 0 0 0 140,8 Z" fill="#3a9a3a"/>
<circle cx="133" cy="10.5" r="4.2" fill="none" stroke="#5a82c0" stroke-width="1"/>
<circle cx="133" cy="9.5" r="1.6" fill="#2a52a0"/>
<path d="M153,9 L168,9 L162,18 L158,17 Z" fill="#f0c040" stroke="#b08818" stroke-width="0.7"/>
<ellipse cx="160.5" cy="7.5" rx="8" ry="3" fill="#6a9ad8" stroke="#3a6ab0" stroke-width="0.7"/>
<path d="M156,7 a4.5,4.5 0 0 1 9,0 z" fill="#7aaae4" stroke="#3a6ab0" stroke-width="0.7"/>
<circle cx="164.5" cy="14.5" r="4" fill="#e02010" stroke="#a01008" stroke-width="0.6"/>
<rect x="163" y="13" width="3" height="3" fill="#fff"/>
<text x="173.4" y="12.9" font-size="11.8" fill="#000" textLength="47" lengthAdjust="spacingAndGlyphs" style="font-family:'Liberation Sans','Noto Sans CJK SC',sans-serif">自动交易</text>
<rect x="228" y="0" width="1" height="22" fill="#a0a0a0" shape-rendering="crispEdges"/>
<rect x="232" y="0" width="3" height="1" fill="#b4b4b4" shape-rendering="crispEdges"/>
<rect x="232" y="2" width="3" height="1" fill="#b4b4b4" shape-rendering="crispEdges"/>
<rect x="232" y="4" width="3" height="1" fill="#b4b4b4" shape-rendering="crispEdges"/>
<rect x="232" y="6" width="3" height="1" fill="#b4b4b4" shape-rendering="crispEdges"/>
<rect x="232" y="8" width="3" height="1" fill="#b4b4b4" shape-rendering="crispEdges"/>
<rect x="232" y="10" width="3" height="1" fill="#b4b4b4" shape-rendering="crispEdges"/>
<rect x="232" y="12" width="3" height="1" fill="#b4b4b4" shape-rendering="crispEdges"/>
<rect x="232" y="14" width="3" height="1" fill="#b4b4b4" shape-rendering="crispEdges"/>
<rect x="232" y="16" width="3" height="1" fill="#b4b4b4" shape-rendering="crispEdges"/>
<rect x="232" y="18" width="3" height="1" fill="#b4b4b4" shape-rendering="crispEdges"/>
<g stroke="#555" stroke-width="1" fill="none" shape-rendering="crispEdges"><line x1="246.5" y1="5" x2="246.5" y2="18"/><line x1="244" y1="15.5" x2="257" y2="15.5"/></g>
<polygon points="246.5,3.8 244.8,6.8 248.2,6.8" fill="#555"/><polygon points="258.2,15.5 255.2,13.8 255.2,17.2" fill="#555"/>
<path d="M252.5,6v8M252.5,6.5h2.5M250,13.5h2.5" stroke="#1a9a1a" stroke-width="1.4" fill="none"/>
<rect x="266" y="0" width="1" height="20" fill="#a0a0a0" shape-rendering="crispEdges"/>
<rect x="267" y="0" width="25" height="21" fill="#f8f8f8" shape-rendering="crispEdges"/>
<g stroke="#555" stroke-width="1" fill="none" shape-rendering="crispEdges"><line x1="274.5" y1="5" x2="274.5" y2="18"/><line x1="272" y1="15.5" x2="285" y2="15.5"/></g>
<polygon points="274.5,3.8 272.8,6.8 276.2,6.8" fill="#555"/><polygon points="286.2,15.5 283.2,13.8 283.2,17.2" fill="#555"/>
<rect x="278.5" y="4.5" width="4" height="7" fill="#22c022" stroke="#128a12" stroke-width="0.9"/><path d="M280.5,2.5v2M280.5,11.5v2.5" stroke="#128a12" stroke-width="1"/>
<g stroke="#555" stroke-width="1" fill="none" shape-rendering="crispEdges"><line x1="302.5" y1="5" x2="302.5" y2="18"/><line x1="300" y1="15.5" x2="313" y2="15.5"/></g>
<polygon points="302.5,3.8 300.8,6.8 304.2,6.8" fill="#555"/><polygon points="314.2,15.5 311.2,13.8 311.2,17.2" fill="#555"/>
<path d="M301,13 C304,7 307,5 309,7.5 L312,11" stroke="#1a8a3a" stroke-width="1.2" fill="none"/>
<rect x="323" y="0" width="1" height="20" fill="#a0a0a0" shape-rendering="crispEdges"/>
<line x1="341.5" y1="12" x2="347" y2="17" stroke="#c8a020" stroke-width="2.8" stroke-linecap="round"/>
<line x1="341.5" y1="12" x2="347" y2="17" stroke="#f0d868" stroke-width="1.2" stroke-linecap="round"/>
<circle cx="338" cy="8" r="5.4" fill="#d6e9fb" stroke="#4a88d0" stroke-width="1.3"/>
<path d="M335,8h6M338,5v6" stroke="#4a86c8" stroke-width="1.6"/>
<line x1="369.5" y1="12" x2="375" y2="17" stroke="#c8a020" stroke-width="2.8" stroke-linecap="round"/>
<line x1="369.5" y1="12" x2="375" y2="17" stroke="#f0d868" stroke-width="1.2" stroke-linecap="round"/>
<circle cx="366" cy="8" r="5.4" fill="#d6e9fb" stroke="#4a88d0" stroke-width="1.3"/>
<path d="M363,8h6" stroke="#4a86c8" stroke-width="1.6"/>
<rect x="388" y="2" width="7.7" height="7.7" fill="#3fa422" />
<rect x="389" y="5.2" width="5.8" height="3.5" fill="#f6faf6" />
<rect x="390" y="6.4" width="3.8" height="0.9" fill="#3fa422" opacity="0.55"/>
<rect x="389" y="3" width="1" height="1" fill="#fff" opacity="0.7"/>
<rect x="396" y="2" width="7.7" height="7.7" fill="#2452d0" />
<rect x="397" y="5.2" width="5.8" height="3.5" fill="#f6faf6" />
<rect x="398" y="6.4" width="3.8" height="0.9" fill="#2452d0" opacity="0.55"/>
<rect x="397" y="3" width="1" height="1" fill="#fff" opacity="0.7"/>
<rect x="388" y="10" width="7.7" height="7.7" fill="#2452d0" />
<rect x="389" y="13.2" width="5.8" height="3.5" fill="#f6faf6" />
<rect x="390" y="14.4" width="3.8" height="0.9" fill="#2452d0" opacity="0.55"/>
<rect x="389" y="11" width="1" height="1" fill="#fff" opacity="0.7"/>
<rect x="396" y="10" width="7.7" height="7.7" fill="#3fa422" />
<rect x="397" y="13.2" width="5.8" height="3.5" fill="#f6faf6" />
<rect x="398" y="14.4" width="3.8" height="0.9" fill="#3fa422" opacity="0.55"/>
<rect x="397" y="11" width="1" height="1" fill="#fff" opacity="0.7"/>
<rect x="413" y="0" width="1" height="20" fill="#a0a0a0" shape-rendering="crispEdges"/>
<rect x="419" y="0" width="24" height="21" fill="#f8f8f8" shape-rendering="crispEdges"/>
<rect x="418" y="0" width="1" height="20" fill="#a0a0a0" shape-rendering="crispEdges"/>
<g stroke="#555" stroke-width="1" fill="none" shape-rendering="crispEdges"><line x1="426.5" y1="5" x2="426.5" y2="18"/><line x1="424" y1="15.5" x2="437" y2="15.5"/></g>
<polygon points="426.5,3.8 424.8,6.8 428.2,6.8" fill="#555"/><polygon points="438.2,15.5 435.2,13.8 435.2,17.2" fill="#555"/>
<polygon points="431,6.2 431,12.8 435,9.5" fill="#66dc66" stroke="#1aa01a" stroke-width="0.9"/>
<rect x="446" y="0" width="1" height="20" fill="#a0a0a0" shape-rendering="crispEdges"/>
<rect x="447" y="0" width="24" height="21" fill="#f8f8f8" shape-rendering="crispEdges"/>
<g stroke="#555" stroke-width="1" fill="none" shape-rendering="crispEdges"><line x1="454.5" y1="5" x2="454.5" y2="18"/><line x1="452" y1="15.5" x2="465" y2="15.5"/></g>
<polygon points="454.5,3.8 452.8,6.8 456.2,6.8" fill="#555"/><polygon points="466.2,15.5 463.2,13.8 463.2,17.2" fill="#555"/>
<line x1="460.5" y1="4" x2="460.5" y2="14" stroke="#2060b0" stroke-width="1.3"/><path d="M466,9.5h-4M464,7.5l-2.5,2l2.5,2" stroke="#e04010" stroke-width="1.1" fill="none"/>
<rect x="475" y="0" width="1" height="20" fill="#a0a0a0" shape-rendering="crispEdges"/>
<path d="M485.5,2.5 h7 l4,4 v8.5 h-11 z" fill="#fff" stroke="#8a8a8a" stroke-width="1"/>
<text x="487.6" y="11.5" font-size="9" font-style="italic" fill="#4a4030" font-family="Liberation Serif, serif">f</text>
<path d="M493,8.4 h4 v3.6 h3.7 v4 h-3.7 v3.4 h-4 v-3.4 h-3.7 v-4 h3.7 z" fill="#34d034" stroke="#128a12" stroke-width="0.9"/>
<polygon points="506.8,8.8 512.3,8.8 509.55,12" fill="#000"/>
<circle cx="531" cy="10" r="7.4" fill="#2a70dc" stroke="#1a4aa8" stroke-width="0.8"/>
<circle cx="531" cy="10" r="5.1" fill="#e9eef6"/>
<path d="M531,5.6v0.9M531,13.5v0.9M526.6,10h0.9M534.5,10h0.9" stroke="#8a98b0" stroke-width="0.9"/>
<path d="M531,6.8v3.4h2.8" stroke="#333" stroke-width="1.2" fill="none"/>
<polygon points="545.3,8.8 550.8,8.8 548.05,12" fill="#000"/>
<rect x="562.5" y="3.5" width="15" height="13" fill="#fff" stroke="#3a6ac0" stroke-width="1"/>
<rect x="562" y="3" width="16" height="2.6" fill="#5a96e4" />
<rect x="563.5" y="4" width="13" height="0.8" fill="#cfe2f8" />
<path d="M564.5,9.5 h2 l1.5,-1 h2 l1,-0.7 l1.5,0.7 h1.5 l1,-0.8" stroke="#a82010" stroke-width="1" fill="none"/>
<path d="M564.5,14.2 h1.5 l1.5,-0.8 l1.5,0.8 l2,-1.2 l1.5,-0.6 l2,2" stroke="#148a24" stroke-width="1" fill="none"/>
<line x1="563" y1="11.5" x2="577" y2="11.5" stroke="#9ab0d8" stroke-width="0.8"/>
<polygon points="584.8,8.8 590.3,8.8 587.55,12" fill="#000"/>
<rect x="596" y="0" width="1" height="22" fill="#a0a0a0" shape-rendering="crispEdges"/>
<rect x="600" y="0" width="3" height="1" fill="#b4b4b4" shape-rendering="crispEdges"/>
<rect x="600" y="2" width="3" height="1" fill="#b4b4b4" shape-rendering="crispEdges"/>
<rect x="600" y="4" width="3" height="1" fill="#b4b4b4" shape-rendering="crispEdges"/>
<rect x="600" y="6" width="3" height="1" fill="#b4b4b4" shape-rendering="crispEdges"/>
<rect x="600" y="8" width="3" height="1" fill="#b4b4b4" shape-rendering="crispEdges"/>
<rect x="600" y="10" width="3" height="1" fill="#b4b4b4" shape-rendering="crispEdges"/>
<rect x="600" y="12" width="3" height="1" fill="#b4b4b4" shape-rendering="crispEdges"/>
<rect x="600" y="14" width="3" height="1" fill="#b4b4b4" shape-rendering="crispEdges"/>
<rect x="600" y="16" width="3" height="1" fill="#b4b4b4" shape-rendering="crispEdges"/>
<rect x="600" y="18" width="3" height="1" fill="#b4b4b4" shape-rendering="crispEdges"/>
<rect x="606" y="0" width="1" height="20" fill="#a0a0a0" shape-rendering="crispEdges"/>
<rect x="607" y="0" width="24" height="21" fill="#f8f8f8" shape-rendering="crispEdges"/>
<path transform="translate(0.8,-0.8)" d="M613.5,3.5 L613.5,15 L616.3,12.3 L618.6,17.4 L620.6,16.5 L618.3,11.6 L622.2,11.3 Z" fill="#484848"/>
<g stroke="#444" stroke-width="1" shape-rendering="crispEdges"><line x1="639" y1="10.5" x2="645" y2="10.5"/><line x1="648" y1="10.5" x2="654" y2="10.5"/><line x1="646.5" y1="3" x2="646.5" y2="9"/><line x1="646.5" y1="12" x2="646.5" y2="18"/></g>
<rect x="663" y="0" width="1" height="20" fill="#a0a0a0" shape-rendering="crispEdges"/>
<g stroke="#444" stroke-width="1" shape-rendering="crispEdges"><line x1="680.5" y1="4" x2="680.5" y2="17"/><line x1="703" y1="10.5" x2="715" y2="10.5"/></g>
<line x1="731" y1="17" x2="743" y2="5" stroke="#444" stroke-width="1"/>
<g stroke="#444" stroke-width="0.9"><line x1="757" y1="14" x2="770" y2="4"/><line x1="758" y1="17" x2="771" y2="7"/><line x1="760" y1="10" x2="761.5" y2="17"/><line x1="763" y1="8" x2="764.5" y2="15"/><line x1="766" y1="5.5" x2="767.5" y2="12.5"/><line x1="769" y1="2.5" x2="770" y2="9"/></g>
<text x="768" y="19" font-size="6.5" font-weight="bold" fill="#333">E</text>
<line x1="786" y1="3.5" x2="799" y2="3.5" stroke="#444" stroke-width="1" stroke-dasharray="1,1" shape-rendering="crispEdges"/>
<line x1="786" y1="6.5" x2="799" y2="6.5" stroke="#444" stroke-width="1" stroke-dasharray="1,1" shape-rendering="crispEdges"/>
<line x1="786" y1="10.5" x2="799" y2="10.5" stroke="#444" stroke-width="1" stroke-dasharray="1,1" shape-rendering="crispEdges"/>
<line x1="786" y1="14.5" x2="799" y2="14.5" stroke="#444" stroke-width="1" stroke-dasharray="1,1" shape-rendering="crispEdges"/>
<text x="796" y="19" font-size="6.5" font-weight="bold" fill="#333">F</text>
<text x="816" y="15" font-size="12.5" fill="#444" textLength="8.5" lengthAdjust="spacingAndGlyphs">A</text>
<rect x="842.5" y="3.5" width="12" height="13" fill="none" stroke="#444" stroke-width="1" stroke-dasharray="1,1" shape-rendering="crispEdges"/>
<path d="M845,6.5h7M848.5,6.5v8.5" stroke="#444" stroke-width="1.6" fill="none"/>
<polygon points="874,3.5 877.5,7.5 870.5,7.5" fill="#333"/><polygon points="880.5,16.8 877,13 884,13" fill="#333"/>
<path d="M872.5,10.8 l2.5,2.5 l4.5,-5.3" stroke="#333" stroke-width="1.2" fill="none"/>
<polygon points="890.8,8.8 896.3,8.8 893.55,12" fill="#000"/>
<rect x="902" y="0" width="1" height="22" fill="#a0a0a0" shape-rendering="crispEdges"/>
<rect x="906" y="0" width="3" height="1" fill="#b4b4b4" shape-rendering="crispEdges"/>
<rect x="906" y="2" width="3" height="1" fill="#b4b4b4" shape-rendering="crispEdges"/>
<rect x="906" y="4" width="3" height="1" fill="#b4b4b4" shape-rendering="crispEdges"/>
<rect x="906" y="6" width="3" height="1" fill="#b4b4b4" shape-rendering="crispEdges"/>
<rect x="906" y="8" width="3" height="1" fill="#b4b4b4" shape-rendering="crispEdges"/>
<rect x="906" y="10" width="3" height="1" fill="#b4b4b4" shape-rendering="crispEdges"/>
<rect x="906" y="12" width="3" height="1" fill="#b4b4b4" shape-rendering="crispEdges"/>
<rect x="906" y="14" width="3" height="1" fill="#b4b4b4" shape-rendering="crispEdges"/>
<rect x="906" y="16" width="3" height="1" fill="#b4b4b4" shape-rendering="crispEdges"/>
<rect x="906" y="18" width="3" height="1" fill="#b4b4b4" shape-rendering="crispEdges"/>
<rect x="1081" y="0" width="24" height="21" fill="#f8f8f8" shape-rendering="crispEdges"/>
<rect x="1080" y="0" width="1" height="20" fill="#a0a0a0" shape-rendering="crispEdges"/>
<text x="917.5" y="13.8" font-size="9.4" fill="#3a3a3a" textLength="12.5" lengthAdjust="spacingAndGlyphs">M1</text>
<text x="945.7" y="13.8" font-size="9.4" fill="#3a3a3a" textLength="12.6" lengthAdjust="spacingAndGlyphs">M5</text>
<text x="971.6" y="13.8" font-size="9.4" fill="#3a3a3a" textLength="17.4" lengthAdjust="spacingAndGlyphs">M15</text>
<text x="999.4" y="13.8" font-size="9.4" fill="#3a3a3a" textLength="17.6" lengthAdjust="spacingAndGlyphs">M30</text>
<text x="1030.6" y="13.8" font-size="9.4" fill="#3a3a3a" textLength="11.4" lengthAdjust="spacingAndGlyphs">H1</text>
<text x="1057.4" y="13.8" font-size="9.4" fill="#3a3a3a" textLength="12.6" lengthAdjust="spacingAndGlyphs">H4</text>
<text x="1086.4" y="13.8" font-size="9.4" fill="#3a3a3a" textLength="11.6" lengthAdjust="spacingAndGlyphs">D1</text>
<text x="1113.6" y="13.8" font-size="9.4" fill="#3a3a3a" textLength="14.1" lengthAdjust="spacingAndGlyphs">W1</text>
<text x="1140.3" y="13.8" font-size="9.4" fill="#3a3a3a" textLength="14.7" lengthAdjust="spacingAndGlyphs">MN</text>
<line x1="1627" y1="14" x2="1631" y2="10" stroke="#2a5ad0" stroke-width="2.2" stroke-linecap="round"/>
<circle cx="1633.5" cy="7.2" r="3.7" fill="#f4f4f4" stroke="#2a5ad0" stroke-width="1.4"/>
<path d="M1664.5,12.6 a6.3,5.3 0 1 1 5.6,-0.5 l0.6,2.2 l-2.6,-1.6 z" fill="#e9e9ee" stroke="#96969c" stroke-width="0.8"/>
<path d="M1655.6,15.3 a5,4.1 0 1 1 3.4,0 l-3,1.9 z" fill="#f2f2f6" stroke="#96969c" stroke-width="0.8"/>
<!--/TOOLBAR-->
<!--PANEL-->
<defs>
<linearGradient id="gt" x1="0" y1="0" x2="0" y2="1"><stop offset="0" stop-color="#5656f2"/><stop offset="1" stop-color="#3a3ade"/></linearGradient>
<linearGradient id="gb" x1="0" y1="0" x2="0" y2="1"><stop offset="0" stop-color="#3434dc"/><stop offset="0.6" stop-color="#1010c4"/><stop offset="1" stop-color="#0000b4"/></linearGradient>
<linearGradient id="gbu" gradientUnits="userSpaceOnUse" x1="0" y1="70" x2="0" y2="110"><stop offset="0" stop-color="#3434dc"/><stop offset="0.6" stop-color="#1010c4"/><stop offset="1" stop-color="#0000b4"/></linearGradient>
<linearGradient id="gbtn" x1="0" y1="0" x2="0" y2="1"><stop offset="0" stop-color="#f2f2f2"/><stop offset="1" stop-color="#cfcfcf"/></linearGradient>
</defs>
<g shape-rendering="crispEdges">
<rect x="0" y="46" width="48" height="25" fill="url(#gt)"/>
<rect x="0" y="70" width="105" height="40" fill="url(#gb)"/>
<rect x="0" y="70" width="44" height="1" fill="#7a7af0"/>
<rect x="163" y="46" width="52" height="25" fill="url(#gt)"/>
<rect x="107" y="70" width="108" height="40" fill="url(#gb)"/>
<rect x="167" y="70" width="44" height="1" fill="#7a7af0"/>
<rect x="48" y="46" width="115" height="24" fill="#fff"/>
<rect x="50.5" y="46.5" width="110" height="21" fill="#fff" stroke="#b4b4b4"/>
<rect x="51" y="47" width="20" height="20" fill="url(#gbtn)"/>
<rect x="140" y="47" width="20" height="20" fill="url(#gbtn)"/>
<rect x="71" y="47" width="1" height="20" fill="#b4b4b4"/><rect x="139" y="47" width="1" height="20" fill="#b4b4b4"/>
</g>
<polygon points="57.5,55.5 63.5,55.5 60.5,58.5" fill="#5a6aa8"/>
<polygon points="146.5,58 152.5,58 149.5,55" fill="#5a6aa8"/>
<text x="8.5" y="61.8" font-size="12.3" fill="#fff" textLength="25.3" lengthAdjust="spacingAndGlyphs">SELL</text>
<text x="176.5" y="61.8" font-size="12.3" fill="#fff" textLength="23" lengthAdjust="spacingAndGlyphs">BUY</text>
<text x="111.5" y="61" font-size="12.6" fill="#111" textLength="23.5" lengthAdjust="spacingAndGlyphs">1.00</text>
<text x="16.5" y="101" font-size="12" font-weight="bold" fill="#fff" textLength="23.5" lengthAdjust="spacingAndGlyphs">1.21</text>
<text x="42.5" y="101.4" font-size="35.6" fill="#fff" stroke="url(#gbu)" stroke-width="0.5" textLength="35" lengthAdjust="spacingAndGlyphs">72</text>
<text x="84" y="84.8" font-size="12" font-weight="bold" fill="#fff" textLength="6" lengthAdjust="spacingAndGlyphs">5</text>
<text x="126.5" y="101" font-size="12" font-weight="bold" fill="#fff" textLength="23.5" lengthAdjust="spacingAndGlyphs">1.21</text>
<text x="155" y="101.4" font-size="35.6" fill="#fff" stroke="url(#gbu)" stroke-width="0.5" textLength="34" lengthAdjust="spacingAndGlyphs">75</text>
<text x="195" y="84.8" font-size="12" font-weight="bold" fill="#fff" textLength="6" lengthAdjust="spacingAndGlyphs">1</text>
<!--/PANEL-->
</svg>
</body></html>
